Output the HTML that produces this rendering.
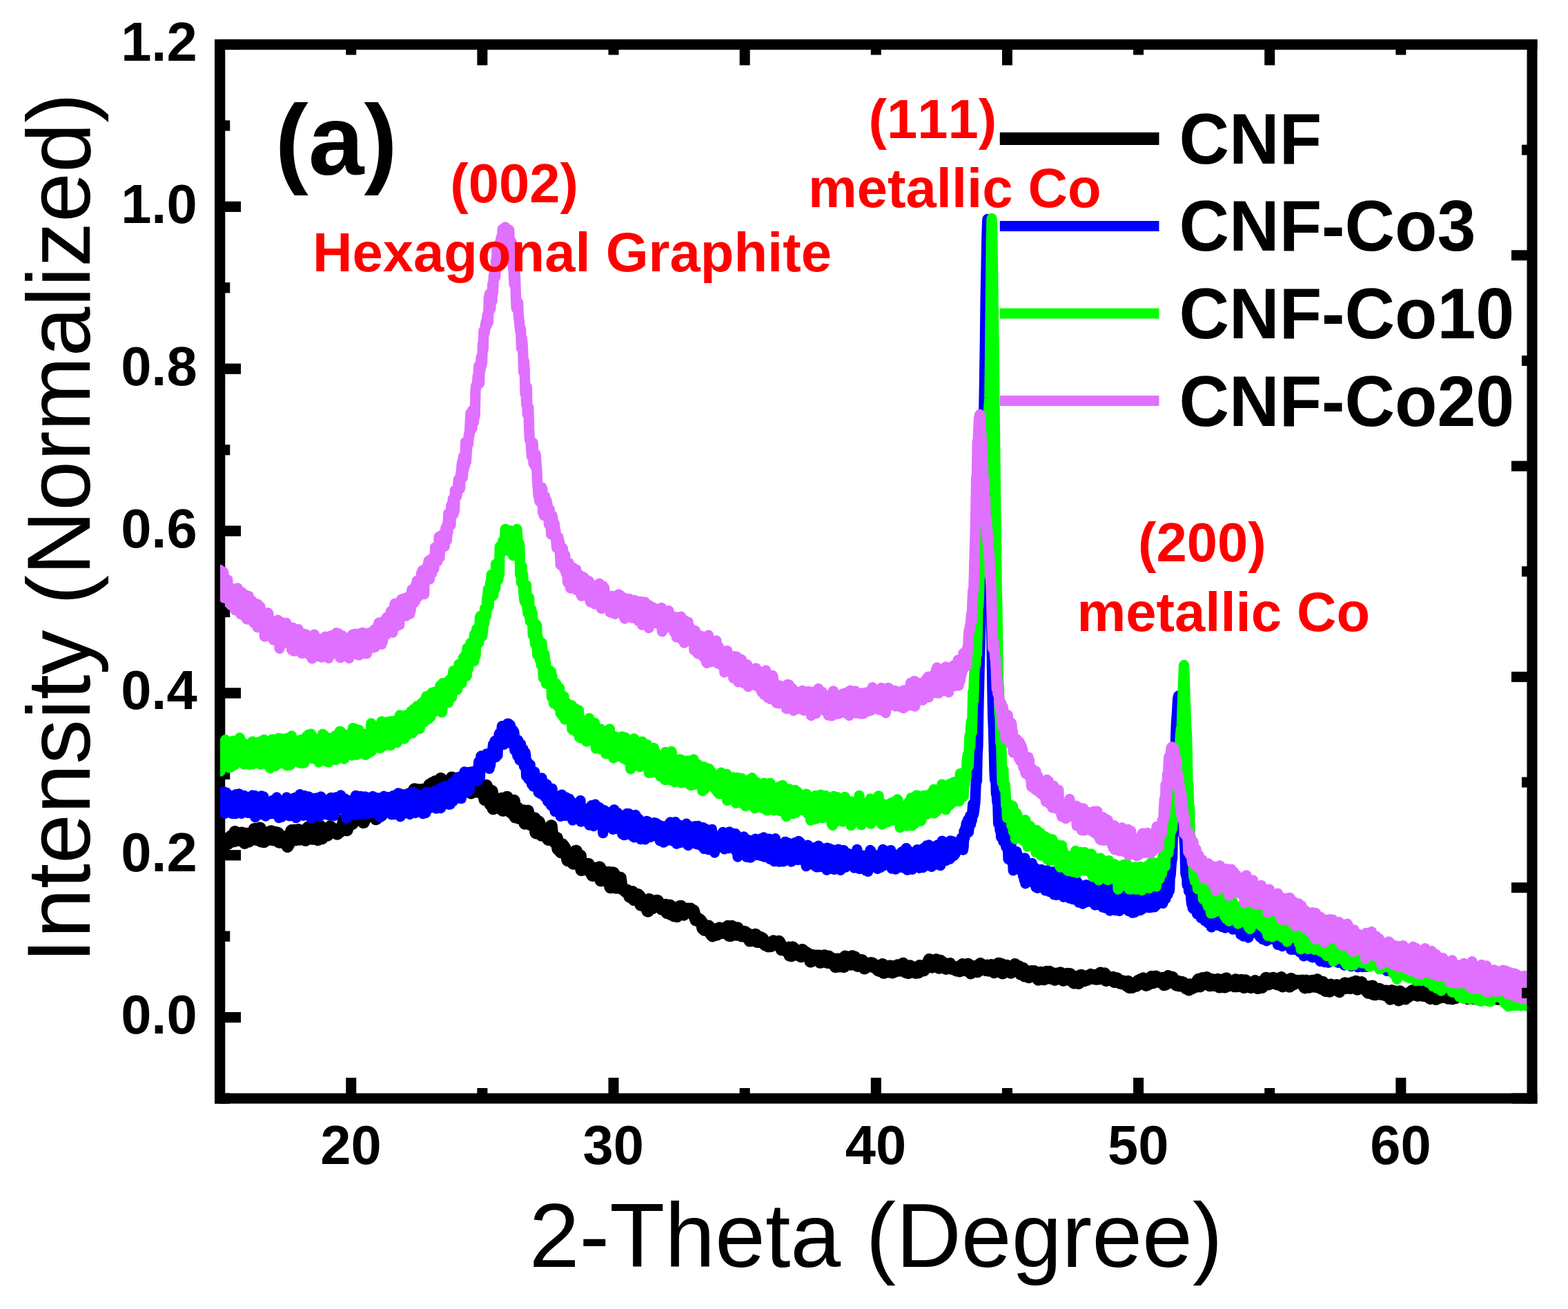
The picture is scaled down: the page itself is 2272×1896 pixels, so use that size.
<!DOCTYPE html>
<html lang="en"><head><meta charset="utf-8"><title>XRD patterns</title>
<style>
html,body{margin:0;padding:0;background:#fff;}
body{width:2272px;height:1896px;overflow:hidden;}
svg{display:block;}
text{font-family:"Liberation Sans",sans-serif;font-kerning:none;}
.b{font-weight:bold;}
.tk{font-weight:bold;font-size:79.5px;}
.an{font-weight:bold;font-size:79.6px;fill:#ff0000;}
.lg{font-weight:bold;font-size:100.5px;}
</style></head>
<body>
<svg width="2272" height="1896" viewBox="0 0 2272 1896">
<rect x="0" y="0" width="2272" height="1896" fill="#ffffff"/>
<defs><clipPath id="cp"><rect x="319.00" y="64.50" width="1893.50" height="1526.50"/></clipPath></defs>
<g fill="#000000"><rect x="311" y="57" width="15.25" height="1541.5"/><rect x="311" y="1583.5" width="1916.5" height="15"/><rect x="318" y="56.90" width="31" height="15.25"/><rect x="318" y="291.75" width="31" height="15.25"/><rect x="318" y="526.59" width="31" height="15.25"/><rect x="318" y="761.44" width="31" height="15.25"/><rect x="318" y="996.28" width="31" height="15.25"/><rect x="318" y="1231.13" width="31" height="15.25"/><rect x="318" y="1465.98" width="31" height="15.25"/><rect x="318" y="174.32" width="15.25" height="15.25"/><rect x="318" y="409.17" width="15.25" height="15.25"/><rect x="318" y="644.02" width="15.25" height="15.25"/><rect x="318" y="878.86" width="15.25" height="15.25"/><rect x="318" y="1113.71" width="15.25" height="15.25"/><rect x="318" y="1348.55" width="15.25" height="15.25"/><rect x="318" y="1583.40" width="15.25" height="15.25"/><rect x="501.24" y="1561" width="15" height="30"/><rect x="881.52" y="1561" width="15" height="30"/><rect x="1261.80" y="1561" width="15" height="30"/><rect x="1642.08" y="1561" width="15" height="30"/><rect x="2022.36" y="1561" width="15" height="30"/><rect x="691.38" y="1576" width="15" height="15"/><rect x="1071.66" y="1576" width="15" height="15"/><rect x="1451.94" y="1576" width="15" height="15"/><rect x="1832.22" y="1576" width="15" height="15"/></g>
<g clip-path="url(#cp)" fill="none" stroke-linejoin="round" stroke-linecap="round">
<path stroke="#000000" stroke-width="18.5" d="M318.6 1224L320.6 1214.3L322.6 1218.9L324.6 1226.4L326.6 1219.5L328.6 1215L330.6 1221.4L332.6 1219.6L334.6 1211.6L336.6 1215.9L338.6 1217.9L340.6 1205.3L342.6 1217L344.6 1216.6L346.6 1213.1L348.6 1212.6L350.6 1206.7L352.6 1216.7L354.6 1220.6L356.6 1208L358.6 1212.2L360.6 1218.2L362.6 1210.9L364.6 1210L366.6 1214.2L368.6 1201.2L370.6 1205L372.6 1216L374.6 1204.5L376.6 1199.7L378.6 1218.3L380.6 1212.8L382.6 1218.9L384.6 1213.8L386.6 1216.5L388.6 1206.1L390.6 1214L392.6 1204.4L394.6 1215.9L396.6 1216.2L398.6 1206L400.6 1206.4L402.6 1207.1L404.6 1219.6L406.6 1218.8L408.6 1211.6L410.6 1219.1L412.6 1217.3L414.6 1218.2L416.6 1225.7L418.6 1221.7L420.6 1211.4L422.6 1203.3L424.6 1206L426.6 1203L428.6 1216L430.6 1214L432.6 1202.3L434.6 1215.4L436.6 1203.5L438.6 1207.7L440.6 1207.1L442.6 1216.6L444.6 1212.8L446.6 1198.7L448.6 1212.5L450.6 1200.7L452.6 1214.5L454.6 1212.1L456.6 1201.2L458.6 1198.2L460.6 1215.9L462.6 1195.7L464.6 1197.9L466.6 1214.1L468.6 1209.6L470.6 1205.2L472.6 1204.4L474.6 1209.5L476.6 1205.3L478.6 1197.5L480.6 1200.1L482.6 1202.8L484.6 1205.7L486.6 1202.4L488.6 1207.4L490.6 1205.6L492.6 1204.5L494.6 1198.6L496.6 1195.8L498.6 1187.7L500.6 1192.5L502.6 1202L504.6 1191.7L506.6 1186.7L508.6 1185.3L510.6 1192.7L512.6 1188.7L514.6 1178.9L516.6 1182.4L518.6 1180.1L520.6 1178.2L522.6 1179.9L524.6 1175.8L526.6 1190.8L528.6 1185.3L530.6 1173.8L532.6 1182L534.6 1178.9L536.6 1175.7L538.6 1176.5L540.6 1178.3L542.6 1169.5L544.6 1186L546.6 1174.3L548.6 1165.7L550.6 1176.5L552.6 1180.6L554.6 1161.1L556.6 1172.9L558.6 1175.4L560.6 1167.8L562.6 1161L564.6 1172.2L566.6 1163.7L568.6 1163.4L570.6 1171.5L572.6 1156.5L574.6 1158.7L576.6 1173.9L578.6 1156.3L580.6 1153.6L582.6 1152.2L584.6 1160.7L586.6 1157.5L588.6 1157.8L590.6 1164.4L592.6 1150.4L594.6 1162.3L596.6 1156.1L598.6 1155L600.6 1143.5L602.6 1144.1L604.6 1144.3L606.6 1149.3L608.6 1146.9L610.6 1144.3L612.6 1155.5L614.6 1150L616.6 1143.2L618.6 1146.8L620.6 1150.6L622.6 1136.9L624.6 1139.6L626.6 1134.5L628.6 1141.5L630.6 1132.5L632.6 1137L634.6 1149.2L636.6 1146L638.6 1128.2L640.6 1134.2L642.6 1145L644.6 1142.4L646.6 1131.9L648.6 1139.7L650.6 1143.9L652.6 1134.9L654.6 1126.7L656.6 1141.8L658.6 1142.6L660.6 1136.2L662.6 1142.1L664.6 1147.5L666.6 1130L668.6 1126L670.6 1140.6L672.6 1130.1L674.6 1143.6L676.6 1144.8L678.6 1138.2L680.6 1143.4L682.6 1148.3L684.6 1142.6L686.6 1136.5L688.6 1139.3L690.6 1132.6L692.6 1146.6L694.6 1141.8L696.6 1136.8L698.6 1139.7L700.6 1144.1L702.6 1157.8L704.6 1138.1L706.6 1143.7L708.6 1145.6L710.6 1164.7L712.6 1146.1L714.6 1170.9L716.6 1167.3L718.6 1159.7L720.6 1166L722.6 1165.9L724.6 1170.6L726.6 1156.9L728.6 1173.5L730.6 1169.3L732.6 1159.3L734.6 1155L736.6 1172L738.6 1174.9L740.6 1175.9L742.6 1177.9L744.6 1159.9L746.6 1183.3L748.6 1169.5L750.6 1171.2L752.6 1184.7L754.6 1179L756.6 1178.4L758.6 1174.5L760.6 1192.4L762.6 1189.3L764.6 1174.9L766.6 1186.6L768.6 1194L770.6 1191.5L772.6 1196.1L774.6 1185.6L776.6 1206.2L778.6 1198.3L780.6 1190.6L782.6 1196.8L784.6 1209.5L786.6 1208.2L788.6 1205.8L790.6 1200.8L792.6 1212.4L794.6 1215.8L796.6 1199.6L798.6 1196.5L800.6 1216.7L802.6 1217.7L804.6 1220.2L806.6 1214L808.6 1229.6L810.6 1223.3L812.6 1233.9L814.6 1223.3L816.6 1226.1L818.6 1229.4L820.6 1235L822.6 1245.9L824.6 1241.3L826.6 1244.1L828.6 1245.6L830.6 1250.4L832.6 1244.7L834.6 1232.9L836.6 1247.7L838.6 1240.4L840.6 1239.3L842.6 1259.8L844.6 1257.4L846.6 1258.6L848.6 1258.4L850.6 1259.3L852.6 1251.9L854.6 1260L856.6 1263.8L858.6 1267.7L860.6 1260.4L862.6 1258.1L864.6 1266.7L866.6 1268.1L868.6 1256.5L870.6 1275.1L872.6 1272.7L874.6 1262.8L876.6 1275.3L878.6 1274.4L880.6 1265.8L882.6 1264L884.6 1285.1L886.6 1280.7L888.6 1264.6L890.6 1267.8L892.6 1285.6L894.6 1280.5L896.6 1281.2L898.6 1271.9L900.6 1286.6L902.6 1286.7L904.6 1288.8L906.6 1291.2L908.6 1289.8L910.6 1292.3L912.6 1298.6L914.6 1296.1L916.6 1292.4L918.6 1302.8L920.6 1299.1L922.6 1300L924.6 1296.3L926.6 1298.3L928.6 1310.5L930.6 1308L932.6 1309.2L934.6 1307.1L936.6 1311.9L938.6 1319.3L940.6 1303.1L942.6 1309.8L944.6 1315.4L946.6 1306.7L948.6 1307.5L950.6 1305.2L952.6 1304.9L954.6 1313.5L956.6 1309.9L958.6 1316.4L960.6 1314.3L962.6 1316.4L964.6 1311.1L966.6 1321.8L968.6 1317.4L970.6 1311.8L972.6 1324.3L974.6 1320.6L976.6 1326L978.6 1315.8L980.6 1327L982.6 1320.4L984.6 1313.5L986.6 1313L988.6 1320.9L990.6 1324.4L992.6 1317.2L994.6 1317.7L996.6 1316.8L998.6 1317.6L1000.6 1316.8L1002.6 1319.4L1004.6 1319.3L1006.6 1326.8L1008.6 1332.2L1010.6 1332.9L1012.6 1331.5L1014.6 1333.2L1016.6 1335.8L1018.6 1344.6L1020.6 1346.4L1022.6 1341.5L1024.6 1345.3L1026.6 1341.7L1028.6 1347.4L1030.6 1353L1032.6 1355.2L1034.6 1349.7L1036.6 1346.5L1038.6 1353.4L1040.6 1346.3L1042.6 1344.4L1044.6 1346.3L1046.6 1350.5L1048.6 1350.7L1050.6 1348.6L1052.6 1347.9L1054.6 1342.1L1056.6 1354.7L1058.6 1354.9L1060.6 1342.1L1062.6 1345.3L1064.6 1347.5L1066.6 1353.5L1068.6 1344.5L1070.6 1350.7L1072.6 1351.1L1074.6 1355.3L1076.6 1353.7L1078.6 1350.1L1080.6 1351.1L1082.6 1357.6L1084.6 1353.5L1086.6 1362.3L1088.6 1358.3L1090.6 1355.4L1092.6 1359.1L1094.6 1354L1096.6 1363.7L1098.6 1363.7L1100.6 1357.7L1102.6 1358.8L1104.6 1359.7L1106.6 1362.5L1108.6 1368.2L1110.6 1366.7L1112.6 1370.2L1114.6 1367.3L1116.6 1370L1118.6 1369.1L1120.6 1363.6L1122.6 1364.3L1124.6 1365.6L1126.6 1367.8L1128.6 1364L1130.6 1367.9L1132.6 1375.1L1134.6 1372.5L1136.6 1374.1L1138.6 1376.4L1140.6 1375.5L1142.6 1372.8L1144.6 1383.5L1146.6 1384L1148.6 1372.5L1150.6 1376.8L1152.6 1379.4L1154.6 1382.5L1156.6 1380.8L1158.6 1382.5L1160.6 1385L1162.6 1376.2L1164.6 1378.3L1166.6 1382.3L1168.6 1380.5L1170.6 1383L1172.6 1382.9L1174.6 1392.3L1176.6 1383.9L1178.6 1389L1180.6 1387.9L1182.6 1384.7L1184.6 1390.4L1186.6 1384.7L1188.6 1393.6L1190.6 1388.5L1192.6 1391.8L1194.6 1384.4L1196.6 1386.9L1198.6 1393.6L1200.6 1385.7L1202.6 1394.1L1204.6 1390.8L1206.6 1394.7L1208.6 1389.5L1210.6 1399.8L1212.6 1393L1214.6 1389.8L1216.6 1399.2L1218.6 1396.8L1220.6 1392.1L1222.6 1399.9L1224.6 1385.8L1226.6 1389.4L1228.6 1392.9L1230.6 1390.7L1232.6 1396.4L1234.6 1385.4L1236.6 1392.7L1238.6 1386.8L1240.6 1389.8L1242.6 1398.7L1244.6 1391.1L1246.6 1391.3L1248.6 1391.3L1250.6 1397.4L1252.6 1402.3L1254.6 1395.4L1256.6 1396.6L1258.6 1399.3L1260.6 1397.7L1262.6 1395.4L1264.6 1396.2L1266.6 1400.4L1268.6 1400.5L1270.6 1399.1L1272.6 1405L1274.6 1405.7L1276.6 1403.6L1278.6 1397.4L1280.6 1408.6L1282.6 1406.5L1284.6 1401.4L1286.6 1407.1L1288.6 1399.7L1290.6 1399.7L1292.6 1408.2L1294.6 1407.3L1296.6 1400.3L1298.6 1406.1L1300.6 1398.6L1302.6 1399.1L1304.6 1405.3L1306.6 1399.2L1308.6 1396L1310.6 1403.5L1312.6 1407.9L1314.6 1404.4L1316.6 1408.7L1318.6 1399.5L1320.6 1401.2L1322.6 1406.4L1324.6 1402.6L1326.6 1408.5L1328.6 1401.4L1330.6 1408.2L1332.6 1399.2L1334.6 1401.8L1336.6 1399.7L1338.6 1405L1340.6 1401.2L1342.6 1396.8L1344.6 1399.4L1346.6 1390.3L1348.6 1398.3L1350.6 1400.4L1352.6 1397.4L1354.6 1398L1356.6 1390.4L1358.6 1393.9L1360.6 1401.5L1362.6 1392L1364.6 1393.8L1366.6 1399.9L1368.6 1396L1370.6 1402.6L1372.6 1400.2L1374.6 1400L1376.6 1396.3L1378.6 1402.5L1380.6 1401.9L1382.6 1403L1384.6 1404.4L1386.6 1405.3L1388.6 1400.8L1390.6 1406.2L1392.6 1403.9L1394.6 1397.3L1396.6 1399.5L1398.6 1404.9L1400.6 1404.7L1402.6 1397L1404.6 1403.2L1406.6 1409.1L1408.6 1404L1410.6 1400.3L1412.6 1406.3L1414.6 1402.8L1416.6 1406.9L1418.6 1401.3L1420.6 1396.4L1422.6 1400.4L1424.6 1403.6L1426.6 1400.5L1428.6 1404.7L1430.6 1398.9L1432.6 1405.4L1434.6 1403L1436.6 1398.2L1438.6 1404.8L1440.6 1407.9L1442.6 1404.9L1444.6 1398.3L1446.6 1396L1448.6 1402.9L1450.6 1396.8L1452.6 1409.2L1454.6 1400.7L1456.6 1405.7L1458.6 1398.9L1460.6 1402.4L1462.6 1404.9L1464.6 1408.4L1466.6 1404.7L1468.6 1403L1470.6 1397.3L1472.6 1399.4L1474.6 1401.5L1476.6 1400.4L1478.6 1410.2L1480.6 1406L1482.6 1403.1L1484.6 1413.2L1486.6 1410.6L1488.6 1409L1490.6 1415L1492.6 1413.2L1494.6 1407.4L1496.6 1412.3L1498.6 1407.4L1500.6 1411.5L1502.6 1410.8L1504.6 1418.4L1506.6 1411.8L1508.6 1408.9L1510.6 1415.3L1512.6 1418.1L1514.6 1409.3L1516.6 1408.1L1518.6 1413L1520.6 1408.1L1522.6 1416.8L1524.6 1416.9L1526.6 1410.6L1528.6 1418.6L1530.6 1413.9L1532.6 1410.6L1534.6 1411.6L1536.6 1409.5L1538.6 1412.1L1540.6 1419.6L1542.6 1414.3L1544.6 1418.3L1546.6 1411.1L1548.6 1418.2L1550.6 1411.3L1552.6 1414.6L1554.6 1421.8L1556.6 1423.3L1558.6 1417.1L1560.6 1414.9L1562.6 1423.7L1564.6 1414.3L1566.6 1412.9L1568.6 1414.8L1570.6 1420.2L1572.6 1414.5L1574.6 1418.9L1576.6 1417.8L1578.6 1413.6L1580.6 1412.1L1582.6 1414.9L1584.6 1417.1L1586.6 1413.1L1588.6 1417.5L1590.6 1414.6L1592.6 1417.3L1594.6 1409.7L1596.6 1413.3L1598.6 1413.3L1600.6 1410.6L1602.6 1419.8L1604.6 1416.1L1606.6 1418.5L1608.6 1416.5L1610.6 1417.9L1612.6 1416L1614.6 1421.8L1616.6 1419L1618.6 1417.6L1620.6 1421.4L1622.6 1423.1L1624.6 1423.9L1626.6 1421.6L1628.6 1422.9L1630.6 1424.8L1632.6 1427.3L1634.6 1422.1L1636.6 1429.8L1638.6 1429L1640.6 1429.6L1642.6 1428.4L1644.6 1425.8L1646.6 1427.6L1648.6 1421.4L1650.6 1424.9L1652.6 1419.4L1654.6 1420.4L1656.6 1417.5L1658.6 1419.9L1660.6 1426.7L1662.6 1418.8L1664.6 1424.9L1666.6 1419L1668.6 1415.2L1670.6 1423.1L1672.6 1419.1L1674.6 1414.9L1676.6 1417.4L1678.6 1420.5L1680.6 1422L1682.6 1418.3L1684.6 1417.1L1686.6 1425.9L1688.6 1425.5L1690.6 1421.1L1692.6 1414.3L1694.6 1422.6L1696.6 1420.8L1698.6 1416.1L1700.6 1422.4L1702.6 1423.6L1704.6 1426.5L1706.6 1421.7L1708.6 1427.2L1710.6 1426.5L1712.6 1423.1L1714.6 1424L1716.6 1426.5L1718.6 1431.1L1720.6 1429.3L1722.6 1433.2L1724.6 1426.5L1726.6 1431.4L1728.6 1426.7L1730.6 1429.3L1732.6 1428.5L1734.6 1422.3L1736.6 1419.1L1738.6 1428.2L1740.6 1422.2L1742.6 1417.2L1744.6 1420.2L1746.6 1418.2L1748.6 1416.2L1750.6 1423.6L1752.6 1427.1L1754.6 1425.8L1756.6 1419.4L1758.6 1426.7L1760.6 1424.4L1762.6 1420.5L1764.6 1419.1L1766.6 1429.2L1768.6 1429.1L1770.6 1419.7L1772.6 1423.3L1774.6 1429.3L1776.6 1417.7L1778.6 1427.6L1780.6 1425.1L1782.6 1424.3L1784.6 1425.3L1786.6 1422.7L1788.6 1428L1790.6 1419.5L1792.6 1428.1L1794.6 1427.5L1796.6 1422.2L1798.6 1420.1L1800.6 1423.6L1802.6 1429.8L1804.6 1420.5L1806.6 1426.2L1808.6 1426.4L1810.6 1429.2L1812.6 1429.6L1814.6 1426.8L1816.6 1422.9L1818.6 1421.4L1820.6 1422.5L1822.6 1430.8L1824.6 1429.7L1826.6 1423.6L1828.6 1429.7L1830.6 1421.2L1832.6 1422.5L1834.6 1417L1836.6 1424.3L1838.6 1425.1L1840.6 1418.1L1842.6 1420.1L1844.6 1417L1846.6 1418.3L1848.6 1424.2L1850.6 1424.9L1852.6 1425.6L1854.6 1417.6L1856.6 1416.3L1858.6 1428.2L1860.6 1420L1862.6 1422.8L1864.6 1422.1L1866.6 1426.7L1868.6 1428.4L1870.6 1418.2L1872.6 1419.3L1874.6 1425L1876.6 1422L1878.6 1420.9L1880.6 1421.1L1882.6 1423.1L1884.6 1421.6L1886.6 1420.7L1888.6 1424L1890.6 1430.1L1892.6 1420.7L1894.6 1425.8L1896.6 1429.5L1898.6 1428L1900.6 1421.1L1902.6 1420.9L1904.6 1428.6L1906.6 1422.6L1908.6 1419.5L1910.6 1429.6L1912.6 1426.5L1914.6 1431.4L1916.6 1423L1918.6 1426.6L1920.6 1434.7L1922.6 1430.9L1924.6 1429.3L1926.6 1435.5L1928.6 1426.8L1930.6 1429.8L1932.6 1432.1L1934.6 1430L1936.6 1427.3L1938.6 1432.4L1940.6 1435.9L1942.6 1431.6L1944.6 1430.4L1946.6 1427.4L1948.6 1424.5L1950.6 1430.8L1952.6 1425.3L1954.6 1425.5L1956.6 1430.8L1958.6 1424.7L1960.6 1423.5L1962.6 1427.9L1964.6 1422.1L1966.6 1432.4L1968.6 1424.8L1970.6 1426.1L1972.6 1423.3L1974.6 1430.3L1976.6 1431.8L1978.6 1429.3L1980.6 1434.8L1982.6 1437.6L1984.6 1429.6L1986.6 1435.1L1988.6 1428.9L1990.6 1439.9L1992.6 1440.1L1994.6 1432.9L1996.6 1435.7L1998.6 1432.9L2000.6 1439.5L2002.6 1437.1L2004.6 1435.7L2006.6 1440.8L2008.6 1435.7L2010.6 1437L2012.6 1439.4L2014.6 1446.4L2016.6 1435.3L2018.6 1439.6L2020.6 1443.8L2022.6 1436.8L2024.6 1437.3L2026.6 1448.2L2028.6 1436.5L2030.6 1439.1L2032.6 1445.9L2034.6 1441.6L2036.6 1446.2L2038.6 1440.6L2040.6 1443.2L2042.6 1438L2044.6 1437.2L2046.6 1435.3L2048.6 1437.6L2050.6 1434.5L2052.6 1441L2054.6 1441.5L2056.6 1434.5L2058.6 1432.2L2060.6 1439.8L2062.6 1441.7L2064.6 1436.2L2066.6 1442.3L2068.6 1437L2070.6 1444.3L2072.6 1445.9L2074.6 1436L2076.6 1435.1L2078.6 1443.5L2080.6 1446.8L2082.6 1437.7L2084.6 1437L2086.6 1444.4L2088.6 1439.8L2090.6 1438.1L2092.6 1443.7L2094.6 1438.2L2096.6 1442.1L2098.6 1445.6L2100.6 1441.7L2102.6 1445.3L2104.6 1446.1L2106.6 1441.9L2108.6 1445.1L2110.6 1434.3L2112.6 1434.1L2114.6 1442.3L2116.6 1442.5L2118.6 1435L2120.6 1438.3L2122.6 1444.8L2124.6 1440.1L2126.6 1446L2128.6 1444.9L2130.6 1445.2L2132.6 1441.9L2134.6 1444.5L2136.6 1446.2L2138.6 1441.2L2140.6 1445.5L2142.6 1441.4L2144.6 1447.9L2146.6 1446.4L2148.6 1441.2L2150.6 1436.7L2152.6 1444.3L2154.6 1445.5L2156.6 1445.9L2158.6 1438.2L2160.6 1438.1L2162.6 1446.6L2164.6 1441L2166.6 1443.8L2168.6 1436.8L2170.6 1446.6L2172.6 1446.1L2174.6 1436.5L2176.6 1443.8L2178.6 1441.3L2180.6 1440.5L2182.6 1435.8L2184.6 1436.9L2186.6 1440.1L2188.6 1437.7L2190.6 1440.1L2192.6 1435.8L2194.6 1441.2L2196.6 1434.8L2198.6 1443.7L2200.6 1435.9L2202.6 1440L2204.6 1439.7L2206.6 1439.7L2208.6 1442.1L2210.6 1443.8L2212.6 1438.4L2214.6 1444.3L2216.6 1438.9L2218.6 1437.4L2220 1448.7"/>
<path stroke="#0000ff" stroke-width="15.3" d="M318.6 1174.8L319.4 1172.2L320.2 1170.8L321 1151.8L321.8 1149.7L322.6 1175.3L323.4 1165.9L324.2 1146.8L325 1173.7L325.8 1178.3L326.6 1157.6L327.4 1170.8L328.2 1148.2L329 1159.1L329.8 1173.1L330.6 1163.9L331.4 1164.1L332.2 1153.1L333 1173.6L333.8 1162.3L334.6 1155.3L335.4 1172.7L336.2 1178.4L337 1164.7L337.8 1171.4L338.6 1178.3L339.4 1151.7L340.2 1167.9L341 1178.7L341.8 1150.7L342.6 1156L343.4 1164.3L344.2 1169L345 1165.3L345.8 1168.3L346.6 1149.8L347.4 1172.5L348.2 1157.1L349 1152L349.8 1178.4L350.6 1168.8L351.4 1162L352.2 1172.1L353 1162.3L353.8 1152.3L354.6 1168.1L355.4 1171.2L356.2 1169.3L357 1167.8L357.8 1176.7L358.6 1175.9L359.4 1177.4L360.2 1161.3L361 1160.2L361.8 1169L362.6 1166.4L363.4 1153.7L364.2 1168.1L365 1161.3L365.8 1152L366.6 1163.9L367.4 1161.4L368.2 1179.8L369 1152.3L369.8 1183.8L370.6 1182.8L371.4 1166.6L372.2 1157.3L373 1172.7L373.8 1155.1L374.6 1158.6L375.4 1171.1L376.2 1163.1L377 1165.8L377.8 1158.7L378.6 1152.9L379.4 1161.8L380.2 1175.2L381 1179.9L381.8 1153.8L382.6 1167.9L383.4 1162.1L384.2 1164.7L385 1182L385.8 1175.4L386.6 1166.6L387.4 1165.9L388.2 1179.1L389 1165.9L389.8 1177.3L390.6 1176.7L391.4 1173.5L392.2 1162.1L393 1172.1L393.8 1178.7L394.6 1159.5L395.4 1175.7L396.2 1164.6L397 1169L397.8 1165.1L398.6 1163L399.4 1176.4L400.2 1162.2L401 1154.9L401.8 1174.8L402.6 1165L403.4 1169L404.2 1184.6L405 1172.9L405.8 1170.1L406.6 1160.6L407.4 1176.2L408.2 1183.4L409 1170.3L409.8 1178.6L410.6 1163.1L411.4 1160.6L412.2 1160.5L413 1163.1L413.8 1180.2L414.6 1164.7L415.4 1154.8L416.2 1166.6L417 1156.6L417.8 1173.6L418.6 1160.6L419.4 1181.9L420.2 1165.8L421 1170.9L421.8 1169.9L422.6 1166.4L423.4 1181.7L424.2 1157L425 1172.4L425.8 1161.4L426.6 1157.7L427.4 1155.5L428.2 1178.4L429 1184.6L429.8 1175.6L430.6 1163.7L431.4 1166.5L432.2 1156.1L433 1164.7L433.8 1158.1L434.6 1150.7L435.4 1160L436.2 1178.6L437 1169.1L437.8 1160.8L438.6 1157.6L439.4 1181.3L440.2 1154.4L441 1152.5L441.8 1160.2L442.6 1173L443.4 1179.2L444.2 1159.2L445 1174.4L445.8 1173.1L446.6 1169.8L447.4 1154L448.2 1171.3L449 1165.1L449.8 1183.2L450.6 1185.2L451.4 1174.5L452.2 1156.2L453 1161.5L453.8 1171L454.6 1181.1L455.4 1165.5L456.2 1164.5L457 1174.2L457.8 1181.8L458.6 1155.9L459.4 1173.4L460.2 1170L461 1164.2L461.8 1167.7L462.6 1183L463.4 1177.1L464.2 1156.3L465 1153.9L465.8 1164.3L466.6 1168.2L467.4 1157L468.2 1160.8L469 1173.8L469.8 1177.8L470.6 1179.4L471.4 1175.8L472.2 1162.8L473 1170.5L473.8 1174.1L474.6 1173.5L475.4 1173.6L476.2 1180L477 1180.9L477.8 1180.4L478.6 1160.7L479.4 1155.4L480.2 1163.1L481 1178L481.8 1162.3L482.6 1176.6L483.4 1170.3L484.2 1181.4L485 1156.2L485.8 1178.1L486.6 1155L487.4 1173.1L488.2 1168.9L489 1162.1L489.8 1160.5L490.6 1162.1L491.4 1170.6L492.2 1159.4L493 1166.2L493.8 1152L494.6 1166.2L495.4 1171.2L496.2 1164.3L497 1167.2L497.8 1171.2L498.6 1167.7L499.4 1156.9L500.2 1161.4L501 1161.5L501.8 1185.5L502.6 1169.2L503.4 1176.7L504.2 1160.1L505 1167.2L505.8 1165.6L506.6 1161.6L507.4 1159.4L508.2 1163L509 1175L509.8 1173.1L510.6 1179.9L511.4 1161.8L512.2 1167.2L513 1173.8L513.8 1166L514.6 1180.5L515.4 1152.3L516.2 1172.4L517 1153L517.8 1169.6L518.6 1164.4L519.4 1167.6L520.2 1177.1L521 1156.1L521.8 1153.3L522.6 1179L523.4 1167.6L524.2 1166.5L525 1153.9L525.8 1166.9L526.6 1175.7L527.4 1177.9L528.2 1166.7L529 1154L529.8 1172.7L530.6 1160.3L531.4 1173.2L532.2 1178.9L533 1178.3L533.8 1155.1L534.6 1158L535.4 1161.7L536.2 1177.7L537 1164.1L537.8 1165.1L538.6 1177.5L539.4 1157L540.2 1153.4L541 1154.1L541.8 1169L542.6 1158.8L543.4 1162.6L544.2 1168.4L545 1168.8L545.8 1164.5L546.6 1155.6L547.4 1179.1L548.2 1180.8L549 1168L549.8 1161.4L550.6 1183.9L551.4 1156.2L552.2 1177.9L553 1168.9L553.8 1159L554.6 1172L555.4 1166.8L556.2 1153.2L557 1166L557.8 1176.1L558.6 1171.7L559.4 1154.5L560.2 1157.3L561 1174.4L561.8 1154.7L562.6 1173.4L563.4 1168.8L564.2 1161.6L565 1164L565.8 1168.1L566.6 1156.1L567.4 1179.9L568.2 1164.1L569 1171.1L569.8 1152.4L570.6 1179.7L571.4 1172.1L572.2 1161.6L573 1175.3L573.8 1175.2L574.6 1162.8L575.4 1159.4L576.2 1176.4L577 1148.9L577.8 1174.7L578.6 1181.3L579.4 1149.7L580.2 1182.9L581 1159.4L581.8 1174.6L582.6 1177.2L583.4 1158.7L584.2 1160.2L585 1178.3L585.8 1170.1L586.6 1171.9L587.4 1155.8L588.2 1175.3L589 1151.2L589.8 1160.1L590.6 1156.7L591.4 1149.8L592.2 1166.3L593 1150.2L593.8 1179.5L594.6 1164.8L595.4 1175.9L596.2 1165L597 1156.8L597.8 1164.6L598.6 1147.1L599.4 1156.6L600.2 1169.2L601 1154L601.8 1177.5L602.6 1168.8L603.4 1150L604.2 1161.9L605 1176.2L605.8 1153L606.6 1155.2L607.4 1157.3L608.2 1164.6L609 1160.9L609.8 1158L610.6 1162.6L611.4 1165.4L612.2 1168.6L613 1178.7L613.8 1168.3L614.6 1150.5L615.4 1153.8L616.2 1155L617 1177.3L617.8 1147.2L618.6 1164L619.4 1160.5L620.2 1153.2L621 1163.9L621.8 1167.8L622.6 1170.5L623.4 1151.5L624.2 1150.3L625 1151.5L625.8 1150.9L626.6 1147.1L627.4 1161.7L628.2 1152.3L629 1162L629.8 1169.1L630.6 1161.5L631.4 1145L632.2 1171.1L633 1153.9L633.8 1147.4L634.6 1150.4L635.4 1144.9L636.2 1151.7L637 1153.2L637.8 1141.6L638.6 1170.6L639.4 1155.5L640.2 1158.2L641 1147.7L641.8 1165L642.6 1165.9L643.4 1152.7L644.2 1138.6L645 1159.6L645.8 1148L646.6 1139.2L647.4 1148.6L648.2 1158.6L649 1157.5L649.8 1138.1L650.6 1165.3L651.4 1149.1L652.2 1165.2L653 1147.8L653.8 1161.7L654.6 1158.5L655.4 1133.4L656.2 1160.6L657 1156.4L657.8 1149.9L658.6 1132L659.4 1146.5L660.2 1152.1L661 1156.7L661.8 1139.5L662.6 1125.9L663.4 1149.6L664.2 1141.9L665 1138.6L665.8 1149L666.6 1125.8L667.4 1127L668.2 1156.6L669 1152.1L669.8 1146.9L670.6 1136.7L671.4 1133.7L672.2 1132.8L673 1117.9L673.8 1148.5L674.6 1130.1L675.4 1143.1L676.2 1121.5L677 1126L677.8 1131.5L678.6 1127L679.4 1118.3L680.2 1144.7L681 1119.6L681.8 1130.2L682.6 1132.7L683.4 1127.7L684.2 1117.7L685 1129.1L685.8 1130.4L686.6 1130.4L687.4 1125.6L688.2 1124.3L689 1121.4L689.8 1126.7L690.6 1120.1L691.4 1114L692.2 1131.4L693 1111.8L693.8 1103.2L694.6 1121.4L695.4 1126.5L696.2 1105L697 1095L697.8 1107.8L698.6 1104.1L699.4 1097L700.2 1102.5L701 1103.7L701.8 1098.3L702.6 1110L703.4 1101.6L704.2 1102.6L705 1091.9L705.8 1110L706.6 1105L707.4 1102.8L708.2 1094.1L709 1113.4L709.8 1104.4L710.6 1108.2L711.4 1095L712.2 1095.4L713 1099.4L713.8 1085.4L714.6 1078.1L715.4 1097.9L716.2 1084.6L717 1073.2L717.8 1083.6L718.6 1096.6L719.4 1077.5L720.2 1085L721 1094L721.8 1069.8L722.6 1067.7L723.4 1062.4L724.2 1069.6L725 1063.5L725.8 1074.8L726.6 1061L727.4 1051.7L728.2 1074.5L729 1074.5L729.8 1078.4L730.6 1055.8L731.4 1061.9L732.2 1062.8L733 1068.8L733.8 1071.2L734.6 1054.2L735.4 1048.2L736.2 1053.7L737 1048.2L737.8 1067.1L738.6 1065L739.4 1050.2L740.2 1067.2L741 1066.6L741.8 1065.6L742.6 1078.4L743.4 1057.6L744.2 1079L745 1060.4L745.8 1086.8L746.6 1078.4L747.4 1088.8L748.2 1071.7L749 1073.2L749.8 1094.9L750.6 1072.1L751.4 1080.3L752.2 1094.2L753 1100.9L753.8 1078.3L754.6 1077.7L755.4 1098.8L756.2 1089.5L757 1089L757.8 1084.9L758.6 1099.2L759.4 1110L760.2 1107.4L761 1089.7L761.8 1095L762.6 1124.3L763.4 1114.4L764.2 1103.4L765 1117.8L765.8 1128.1L766.6 1120.3L767.4 1120.9L768.2 1107.6L769 1132.1L769.8 1130.8L770.6 1136L771.4 1123.2L772.2 1135.1L773 1139.2L773.8 1123.5L774.6 1118L775.4 1136.2L776.2 1125.8L777 1128.5L777.8 1127.9L778.6 1128L779.4 1132.9L780.2 1147.9L781 1143.8L781.8 1127.3L782.6 1142.7L783.4 1149.7L784.2 1138.7L785 1126.9L785.8 1149.7L786.6 1149.8L787.4 1132.6L788.2 1137.7L789 1153.9L789.8 1149.7L790.6 1137.1L791.4 1145.2L792.2 1136L793 1158.3L793.8 1160.9L794.6 1142.7L795.4 1150.5L796.2 1159.7L797 1157.8L797.8 1146.2L798.6 1166.7L799.4 1166.8L800.2 1142.3L801 1168.7L801.8 1153.7L802.6 1160.4L803.4 1164.3L804.2 1175.4L805 1158.7L805.8 1153.3L806.6 1159.8L807.4 1174.1L808.2 1166.8L809 1166.6L809.8 1163.5L810.6 1163.7L811.4 1178.8L812.2 1182.4L813 1162.9L813.8 1151.1L814.6 1157L815.4 1154.7L816.2 1164.8L817 1172.1L817.8 1170.2L818.6 1168.8L819.4 1181.4L820.2 1155L821 1163.2L821.8 1179.9L822.6 1178.1L823.4 1172.1L824.2 1178.3L825 1157.1L825.8 1178L826.6 1171.4L827.4 1181.9L828.2 1161.3L829 1168.2L829.8 1188.1L830.6 1166.2L831.4 1181.4L832.2 1185.4L833 1178.3L833.8 1173.8L834.6 1174.2L835.4 1168.2L836.2 1174.1L837 1178.7L837.8 1177.1L838.6 1172.9L839.4 1169.1L840.2 1164.3L841 1159.6L841.8 1190.2L842.6 1176.2L843.4 1181.9L844.2 1181.9L845 1172.9L845.8 1172.2L846.6 1183.9L847.4 1177.1L848.2 1182.1L849 1179.9L849.8 1178.6L850.6 1182.7L851.4 1178.8L852.2 1170.8L853 1177.5L853.8 1195L854.6 1188L855.4 1171.1L856.2 1181.4L857 1166.6L857.8 1184.3L858.6 1177.6L859.4 1187.5L860.2 1196.6L861 1186.4L861.8 1190.6L862.6 1165.2L863.4 1174.1L864.2 1185.5L865 1174.1L865.8 1181.6L866.6 1174.8L867.4 1183.7L868.2 1169.4L869 1188.1L869.8 1177.9L870.6 1178.8L871.4 1173.2L872.2 1177L873 1172.7L873.8 1206.7L874.6 1191.5L875.4 1193.1L876.2 1174L877 1179.3L877.8 1197.8L878.6 1198.9L879.4 1176.7L880.2 1193L881 1196.3L881.8 1188.4L882.6 1183.1L883.4 1183.3L884.2 1196.6L885 1182.9L885.8 1195.7L886.6 1175.6L887.4 1191.5L888.2 1201.3L889 1176.5L889.8 1172.8L890.6 1200.7L891.4 1180.6L892.2 1193.6L893 1178.6L893.8 1194.6L894.6 1190.9L895.4 1177.7L896.2 1185L897 1191.4L897.8 1194L898.6 1188.8L899.4 1197.3L900.2 1203.3L901 1183.4L901.8 1208.1L902.6 1187.3L903.4 1194.5L904.2 1209.6L905 1197.8L905.8 1193.4L906.6 1209.2L907.4 1190L908.2 1178.4L909 1203.5L909.8 1192.1L910.6 1207.7L911.4 1178.6L912.2 1202.9L913 1198.3L913.8 1182.1L914.6 1193.3L915.4 1207.7L916.2 1210.8L917 1204.5L917.8 1206.5L918.6 1212.8L919.4 1210.4L920.2 1198.8L921 1180.5L921.8 1207.2L922.6 1183.9L923.4 1185L924.2 1203.3L925 1205.1L925.8 1186.5L926.6 1204.4L927.4 1207.3L928.2 1215.7L929 1204.8L929.8 1213.1L930.6 1194.3L931.4 1205.7L932.2 1191.8L933 1197.6L933.8 1194L934.6 1215.9L935.4 1214.9L936.2 1206.9L937 1189.3L937.8 1192.3L938.6 1189.9L939.4 1195.6L940.2 1200.8L941 1200.7L941.8 1204L942.6 1212.5L943.4 1198.8L944.2 1204.4L945 1202.8L945.8 1194.4L946.6 1207.6L947.4 1192.7L948.2 1191.6L949 1206.1L949.8 1210.9L950.6 1192.4L951.4 1202.1L952.2 1193.6L953 1199.1L953.8 1206L954.6 1209L955.4 1204.2L956.2 1217.8L957 1214.8L957.8 1195.9L958.6 1216.4L959.4 1197.6L960.2 1214.1L961 1205.1L961.8 1220.2L962.6 1201L963.4 1215.1L964.2 1201.4L965 1215L965.8 1213.3L966.6 1217.4L967.4 1208.5L968.2 1201.5L969 1193.6L969.8 1213.7L970.6 1207.6L971.4 1190.8L972.2 1214.1L973 1204.7L973.8 1214.6L974.6 1205.1L975.4 1218.4L976.2 1214.6L977 1218L977.8 1219.7L978.6 1190.6L979.4 1209.7L980.2 1222.1L981 1194.4L981.8 1216.6L982.6 1199.7L983.4 1210.1L984.2 1194.9L985 1213.3L985.8 1220.5L986.6 1215.5L987.4 1218.6L988.2 1219.6L989 1210.4L989.8 1198L990.6 1209.9L991.4 1219.1L992.2 1204.4L993 1204.6L993.8 1220.9L994.6 1193.1L995.4 1198.7L996.2 1204.8L997 1224.5L997.8 1201.8L998.6 1210.6L999.4 1220.9L1000.2 1197.3L1001 1218.5L1001.8 1221.5L1002.6 1197.3L1003.4 1214.4L1004.2 1206L1005 1214.3L1005.8 1197.3L1006.6 1206.8L1007.4 1196.6L1008.2 1213.4L1009 1202.9L1009.8 1222.9L1010.6 1209.6L1011.4 1196.3L1012.2 1204.6L1013 1214.1L1013.8 1208.2L1014.6 1205.2L1015.4 1224.6L1016.2 1216L1017 1200.3L1017.8 1222L1018.6 1198.6L1019.4 1223.9L1020.2 1229.4L1021 1205.6L1021.8 1200.2L1022.6 1215.9L1023.4 1217L1024.2 1212.2L1025 1211L1025.8 1202.5L1026.6 1230.6L1027.4 1205.7L1028.2 1213.3L1029 1211.1L1029.8 1220.5L1030.6 1207.1L1031.4 1201.4L1032.2 1213.5L1033 1211.2L1033.8 1220.9L1034.6 1213.3L1035.4 1235L1036.2 1217.1L1037 1218.5L1037.8 1216L1038.6 1220.7L1039.4 1220.7L1040.2 1216.8L1041 1210.7L1041.8 1227.1L1042.6 1218.3L1043.4 1210.6L1044.2 1223L1045 1223.7L1045.8 1220.5L1046.6 1225.2L1047.4 1205.4L1048.2 1207L1049 1211L1049.8 1229.9L1050.6 1210.3L1051.4 1228.1L1052.2 1223L1053 1224.1L1053.8 1217.4L1054.6 1220.7L1055.4 1228.6L1056.2 1221.4L1057 1204.9L1057.8 1220.6L1058.6 1209.8L1059.4 1209.4L1060.2 1212.1L1061 1225L1061.8 1226.2L1062.6 1216.4L1063.4 1207.5L1064.2 1211.2L1065 1228.1L1065.8 1207.7L1066.6 1233.2L1067.4 1226.7L1068.2 1226.3L1069 1241L1069.8 1212.6L1070.6 1227.7L1071.4 1217.7L1072.2 1230.1L1073 1224.3L1073.8 1225.8L1074.6 1220.6L1075.4 1235L1076.2 1227.4L1077 1212.3L1077.8 1212L1078.6 1238.6L1079.4 1236.2L1080.2 1228.3L1081 1232.9L1081.8 1241.3L1082.6 1234.4L1083.4 1216.4L1084.2 1233.4L1085 1227.8L1085.8 1218L1086.6 1230.1L1087.4 1242.2L1088.2 1241.5L1089 1222.9L1089.8 1236.3L1090.6 1218.6L1091.4 1222L1092.2 1216.5L1093 1220.1L1093.8 1238.5L1094.6 1215.1L1095.4 1216.3L1096.2 1216.1L1097 1238.4L1097.8 1221L1098.6 1226.3L1099.4 1230L1100.2 1238.6L1101 1223.3L1101.8 1235L1102.6 1239.5L1103.4 1214.4L1104.2 1237.1L1105 1223.5L1105.8 1227.7L1106.6 1213L1107.4 1241.2L1108.2 1216.1L1109 1240.9L1109.8 1229.3L1110.6 1233L1111.4 1236.5L1112.2 1215.7L1113 1234.3L1113.8 1220.2L1114.6 1215.1L1115.4 1244.3L1116.2 1222.3L1117 1240.8L1117.8 1221L1118.6 1237.9L1119.4 1238.1L1120.2 1226.1L1121 1230.4L1121.8 1247.7L1122.6 1222.1L1123.4 1214.7L1124.2 1242.5L1125 1244.8L1125.8 1226.7L1126.6 1223.3L1127.4 1221.5L1128.2 1234.7L1129 1248.1L1129.8 1240.6L1130.6 1241.6L1131.4 1232.3L1132.2 1225.3L1133 1237.3L1133.8 1247.7L1134.6 1238.2L1135.4 1247.9L1136.2 1232.5L1137 1223.9L1137.8 1219.3L1138.6 1228.3L1139.4 1243.3L1140.2 1240.8L1141 1225L1141.8 1230.5L1142.6 1221L1143.4 1233L1144.2 1231.6L1145 1244.7L1145.8 1245.4L1146.6 1248L1147.4 1222.6L1148.2 1228.4L1149 1242.5L1149.8 1226.6L1150.6 1232.2L1151.4 1225.3L1152.2 1220.5L1153 1239L1153.8 1231.2L1154.6 1233.6L1155.4 1237.1L1156.2 1245.5L1157 1218.5L1157.8 1222.1L1158.6 1226.2L1159.4 1220.2L1160.2 1240.7L1161 1234.3L1161.8 1224.4L1162.6 1237.2L1163.4 1225.8L1164.2 1235.8L1165 1243.2L1165.8 1227.5L1166.6 1249.1L1167.4 1244.3L1168.2 1254.7L1169 1237L1169.8 1240.5L1170.6 1224.1L1171.4 1252.1L1172.2 1246L1173 1241.5L1173.8 1247.1L1174.6 1228.9L1175.4 1250.8L1176.2 1247.9L1177 1230.3L1177.8 1249.1L1178.6 1243.9L1179.4 1244.6L1180.2 1227.7L1181 1254.4L1181.8 1235.7L1182.6 1250.1L1183.4 1255.9L1184.2 1226.4L1185 1242.3L1185.8 1225.1L1186.6 1236.3L1187.4 1255.6L1188.2 1244.9L1189 1249.9L1189.8 1238.2L1190.6 1233.8L1191.4 1228.7L1192.2 1246.9L1193 1255.9L1193.8 1235.5L1194.6 1239.1L1195.4 1250.5L1196.2 1231.3L1197 1246.2L1197.8 1260.1L1198.6 1228.1L1199.4 1256.3L1200.2 1252.1L1201 1256.9L1201.8 1229.2L1202.6 1244L1203.4 1250.1L1204.2 1252.5L1205 1234.9L1205.8 1258.3L1206.6 1231L1207.4 1249L1208.2 1255.2L1209 1259.3L1209.8 1254.1L1210.6 1244.4L1211.4 1257.8L1212.2 1256.3L1213 1246.8L1213.8 1246.9L1214.6 1230.1L1215.4 1234.6L1216.2 1259.4L1217 1253L1217.8 1260.4L1218.6 1250.9L1219.4 1249.6L1220.2 1239.4L1221 1243.3L1221.8 1238.6L1222.6 1231.5L1223.4 1245.8L1224.2 1247.9L1225 1256.1L1225.8 1248.9L1226.6 1239.8L1227.4 1236.1L1228.2 1249.4L1229 1236.5L1229.8 1239.4L1230.6 1248.2L1231.4 1251.7L1232.2 1242.3L1233 1242.3L1233.8 1251.7L1234.6 1248.2L1235.4 1247.7L1236.2 1253.8L1237 1242.7L1237.8 1257L1238.6 1250.6L1239.4 1237.1L1240.2 1234.6L1241 1252.4L1241.8 1230.3L1242.6 1244.8L1243.4 1249.3L1244.2 1240.3L1245 1258.4L1245.8 1254.5L1246.6 1248.5L1247.4 1244.2L1248.2 1251.1L1249 1250.3L1249.8 1255L1250.6 1239.1L1251.4 1241.5L1252.2 1248.4L1253 1252.6L1253.8 1249.4L1254.6 1260.9L1255.4 1246.9L1256.2 1244.6L1257 1247.3L1257.8 1262.3L1258.6 1250.4L1259.4 1247.3L1260.2 1246.1L1261 1231.5L1261.8 1232.4L1262.6 1249L1263.4 1235.2L1264.2 1250.2L1265 1249.6L1265.8 1253.9L1266.6 1249.6L1267.4 1246L1268.2 1251.2L1269 1241.8L1269.8 1254.7L1270.6 1250.6L1271.4 1258.4L1272.2 1246.1L1273 1239.8L1273.8 1255.4L1274.6 1252.7L1275.4 1256.5L1276.2 1247.4L1277 1254.4L1277.8 1234.2L1278.6 1248.3L1279.4 1230.3L1280.2 1254L1281 1242.7L1281.8 1241.6L1282.6 1245.1L1283.4 1241.8L1284.2 1241.6L1285 1250.1L1285.8 1240.2L1286.6 1240.8L1287.4 1232.7L1288.2 1237.2L1289 1234.4L1289.8 1240.4L1290.6 1231.7L1291.4 1235.4L1292.2 1258.1L1293 1247.7L1293.8 1254.3L1294.6 1255.8L1295.4 1237.4L1296.2 1242.9L1297 1246.2L1297.8 1259L1298.6 1250.2L1299.4 1254.7L1300.2 1251.2L1301 1242.5L1301.8 1246.3L1302.6 1239.8L1303.4 1252.7L1304.2 1250.6L1305 1238L1305.8 1248.4L1306.6 1233.9L1307.4 1256.6L1308.2 1237.3L1309 1246.4L1309.8 1243.6L1310.6 1232.2L1311.4 1245.4L1312.2 1230.9L1313 1228.6L1313.8 1240.9L1314.6 1260.2L1315.4 1231.6L1316.2 1235.2L1317 1237.3L1317.8 1255.1L1318.6 1249.3L1319.4 1257.8L1320.2 1243.2L1321 1241.4L1321.8 1259.4L1322.6 1243.2L1323.4 1238L1324.2 1234.5L1325 1234.3L1325.8 1248.5L1326.6 1241.1L1327.4 1234.9L1328.2 1240.4L1329 1230.7L1329.8 1251L1330.6 1251.3L1331.4 1256L1332.2 1257.3L1333 1248.1L1333.8 1232.2L1334.6 1233L1335.4 1255.6L1336.2 1240.9L1337 1256.6L1337.8 1228.8L1338.6 1254.6L1339.4 1229.1L1340.2 1254.9L1341 1237.5L1341.8 1248.1L1342.6 1224.9L1343.4 1235.8L1344.2 1249.9L1345 1237.8L1345.8 1223.9L1346.6 1244L1347.4 1246.6L1348.2 1238.5L1349 1225.7L1349.8 1255.4L1350.6 1228.5L1351.4 1239.1L1352.2 1240.3L1353 1245.3L1353.8 1252.8L1354.6 1240.5L1355.4 1227.9L1356.2 1244.6L1357 1229.6L1357.8 1236.2L1358.6 1223.8L1359.4 1229.3L1360.2 1235.6L1361 1231.8L1361.8 1232.6L1362.6 1253.7L1363.4 1241.8L1364.2 1223.9L1365 1218.1L1365.8 1223.4L1366.6 1224.1L1367.4 1242.8L1368.2 1243.5L1369 1235.5L1369.8 1229.4L1370.6 1246.5L1371.4 1242L1372.2 1231.4L1373 1232.8L1373.8 1244.8L1374.6 1227L1375.4 1240.4L1376.2 1244.3L1377 1217.9L1377.8 1228.3L1378.6 1239.5L1379.4 1227.2L1380.2 1218.5L1381 1230.3L1381.8 1239.6L1382.6 1220.8L1383.4 1237.7L1384.2 1237L1385 1226.7L1385.8 1230L1386.6 1224.7L1387.4 1222L1388.2 1225.1L1389 1221.8L1389.8 1230.5L1390.6 1229.2L1391.4 1225.9L1392.2 1228.8L1393 1213.7L1393.8 1224.7L1394.6 1226.4L1395.4 1231L1396.2 1226.1L1397 1203.8L1397.8 1214.1L1398.6 1200.1L1399.4 1201.3L1400.2 1192.6L1401 1193.9L1401.8 1191.6L1402.6 1187.2L1403.4 1205.4L1404.2 1197.7L1405 1187.7L1405.8 1181.6L1406.6 1194.2L1407.4 1184.5L1408.2 1188.1L1409 1174.3L1409.8 1164.5L1410.6 1179.6L1411.4 1175.2L1412.2 1168L1413 1161.5L1413.8 1141.7L1414.6 1126.3L1415.4 1131.7L1416.2 1093.2L1417 1079L1417.8 1026.4L1418.6 993.7L1419.4 957.9L1420.2 931.8L1421 871.1L1421.8 824.6L1422.6 783.2L1423.4 744.5L1424.2 682.8L1425 625.7L1425.8 595.3L1426.6 543L1427.4 493L1428.2 428.1L1429 389.3L1429.8 344.9L1430.6 321.6L1431 317.5L1431.4 332.9L1432.2 421.7L1433 556.6L1433.8 668.8L1434.6 758L1435.4 822.6L1436.2 905.5L1437 932.9L1437.8 992.4L1438.6 1035.5L1439.4 1055L1440.2 1084.8L1441 1119.3L1441.8 1130.4L1442.6 1117.9L1443.4 1149.6L1444.2 1151.6L1445 1162.3L1445.8 1164.4L1446.6 1193.2L1447.4 1189.7L1448.2 1184.2L1449 1202.7L1449.8 1187.4L1450.6 1212.6L1451.4 1211.6L1452.2 1211.1L1453 1199.1L1453.8 1219L1454.6 1195.1L1455.4 1205.6L1456.2 1219.6L1457 1207.6L1457.8 1227L1458.6 1225.9L1459.4 1224.4L1460.2 1216.4L1461 1244.4L1461.8 1238.5L1462.6 1244L1463.4 1220.7L1464.2 1221.8L1465 1220.5L1465.8 1243.5L1466.6 1249.6L1467.4 1238.3L1468.2 1260.8L1469 1251.9L1469.8 1238.9L1470.6 1251L1471.4 1245.4L1472.2 1242.9L1473 1233.7L1473.8 1237.4L1474.6 1244.7L1475.4 1258.7L1476.2 1247.3L1477 1245L1477.8 1256.8L1478.6 1242.2L1479.4 1257.5L1480.2 1252.6L1481 1263.1L1481.8 1261.7L1482.6 1268.9L1483.4 1251.7L1484.2 1274.5L1485 1242.9L1485.8 1279.8L1486.6 1257.3L1487.4 1248.7L1488.2 1258.7L1489 1274.2L1489.8 1254.4L1490.6 1254.9L1491.4 1275.2L1492.2 1272.3L1493 1263.2L1493.8 1277.3L1494.6 1276.5L1495.4 1250.3L1496.2 1258.9L1497 1271.6L1497.8 1260.7L1498.6 1261.2L1499.4 1265.6L1500.2 1257.3L1501 1285.1L1501.8 1282.5L1502.6 1271.3L1503.4 1286.3L1504.2 1267.7L1505 1278.7L1505.8 1269L1506.6 1264.2L1507.4 1268.6L1508.2 1272.6L1509 1259.4L1509.8 1272.8L1510.6 1262.9L1511.4 1281.8L1512.2 1261.7L1513 1275.4L1513.8 1273.6L1514.6 1289.9L1515.4 1267.5L1516.2 1286.9L1517 1260.8L1517.8 1265.9L1518.6 1265.8L1519.4 1265.2L1520.2 1279.4L1521 1291.7L1521.8 1264.1L1522.6 1275.6L1523.4 1288.3L1524.2 1274.3L1525 1262.7L1525.8 1278L1526.6 1274.1L1527.4 1295.9L1528.2 1273.2L1529 1285.3L1529.8 1279.7L1530.6 1296.4L1531.4 1294.3L1532.2 1284.8L1533 1273.1L1533.8 1285.6L1534.6 1264.1L1535.4 1280.3L1536.2 1285.3L1537 1280.4L1537.8 1291.4L1538.6 1273.9L1539.4 1287.2L1540.2 1271.5L1541 1299.3L1541.8 1283.8L1542.6 1277.3L1543.4 1278.9L1544.2 1270.2L1545 1282.8L1545.8 1270.4L1546.6 1274.8L1547.4 1285.1L1548.2 1294.8L1549 1275.2L1549.8 1301.2L1550.6 1280.9L1551.4 1277.7L1552.2 1292.3L1553 1277L1553.8 1281.2L1554.6 1302.7L1555.4 1286.9L1556.2 1300L1557 1293.2L1557.8 1285.9L1558.6 1285.3L1559.4 1275.9L1560.2 1276.7L1561 1281.6L1561.8 1278.8L1562.6 1294.9L1563.4 1307.2L1564.2 1300.9L1565 1292.8L1565.8 1291.9L1566.6 1293.4L1567.4 1283.2L1568.2 1294.7L1569 1309.1L1569.8 1301L1570.6 1283.1L1571.4 1301.2L1572.2 1289L1573 1299L1573.8 1281.7L1574.6 1306.5L1575.4 1300.5L1576.2 1302.5L1577 1304.1L1577.8 1287.6L1578.6 1283.3L1579.4 1304.9L1580.2 1303.1L1581 1291.6L1581.8 1306.3L1582.6 1293.8L1583.4 1296.1L1584.2 1296.4L1585 1294L1585.8 1294.1L1586.6 1310.9L1587.4 1282.9L1588.2 1292.9L1589 1304.9L1589.8 1305.6L1590.6 1291.4L1591.4 1301.5L1592.2 1292.3L1593 1310.7L1593.8 1302.1L1594.6 1282.9L1595.4 1291.5L1596.2 1309.2L1597 1305.3L1597.8 1314L1598.6 1310.7L1599.4 1289.7L1600.2 1290.1L1601 1315L1601.8 1285.1L1602.6 1293.4L1603.4 1304.1L1604.2 1296.3L1605 1288.1L1605.8 1303.1L1606.6 1309.7L1607.4 1307.9L1608.2 1319L1609 1299.3L1609.8 1284.5L1610.6 1311.2L1611.4 1306.7L1612.2 1292.3L1613 1301.6L1613.8 1288.6L1614.6 1299.7L1615.4 1299L1616.2 1318.5L1617 1295.8L1617.8 1292.8L1618.6 1290.6L1619.4 1314.8L1620.2 1304.3L1621 1310.2L1621.8 1319.5L1622.6 1313.2L1623.4 1290.5L1624.2 1304.3L1625 1293.8L1625.8 1291.5L1626.6 1294.1L1627.4 1304.9L1628.2 1316.2L1629 1291.8L1629.8 1293L1630.6 1304.7L1631.4 1294.4L1632.2 1305.1L1633 1296.4L1633.8 1301.1L1634.6 1308.2L1635.4 1319.4L1636.2 1315.2L1637 1296.3L1637.8 1297.2L1638.6 1300.7L1639.4 1300.2L1640.2 1308.5L1641 1322.2L1641.8 1312.8L1642.6 1318.3L1643.4 1291.5L1644.2 1321.5L1645 1299.4L1645.8 1306.1L1646.6 1300.5L1647.4 1316.1L1648.2 1314.4L1649 1300.2L1649.8 1287.9L1650.6 1313L1651.4 1310.1L1652.2 1318.5L1653 1298.2L1653.8 1317.4L1654.6 1308L1655.4 1316.6L1656.2 1299.7L1657 1302L1657.8 1307.6L1658.6 1303.7L1659.4 1307.4L1660.2 1293.3L1661 1288.5L1661.8 1291L1662.6 1312.1L1663.4 1289.5L1664.2 1313L1665 1314.7L1665.8 1290.1L1666.6 1295.2L1667.4 1300.1L1668.2 1314.3L1669 1302L1669.8 1294.7L1670.6 1288.3L1671.4 1291L1672.2 1296.6L1673 1313.8L1673.8 1298.4L1674.6 1303L1675.4 1311.2L1676.2 1287.7L1677 1287.2L1677.8 1280.4L1678.6 1299.8L1679.4 1306.8L1680.2 1297.7L1681 1293.4L1681.8 1281L1682.6 1292.3L1683.4 1301.1L1684.2 1290.1L1685 1308.4L1685.8 1277.7L1686.6 1292.9L1687.4 1297.5L1688.2 1277.3L1689 1301.8L1689.8 1284.9L1690.6 1285.5L1691.4 1287.6L1692.2 1295.1L1693 1287.5L1693.8 1282.4L1694.6 1289.7L1695.4 1263.7L1696.2 1267.6L1697 1255L1697.8 1246.6L1698.6 1242.8L1699.4 1205.2L1700.2 1209.6L1701 1182.5L1701.8 1131L1702.6 1103.8L1703.4 1076.7L1704.2 1050.9L1705 1039.7L1705.8 1028.2L1706.6 1012.6L1707.5 1008L1708.2 1013L1709 1030L1709.8 1046.9L1710.6 1060.7L1711.4 1095.7L1712.2 1102.6L1713 1126.7L1713.8 1160.7L1714.6 1178.1L1715.4 1202.8L1716.2 1217.6L1717 1230.3L1717.8 1264.6L1718.6 1268.1L1719.4 1257.7L1720.2 1282.3L1721 1265.5L1721.8 1266.6L1722.6 1291L1723.4 1277.8L1724.2 1278L1725 1285.9L1725.8 1301.5L1726.6 1309.3L1727.4 1307.9L1728.2 1315.5L1729 1313L1729.8 1317L1730.6 1305.7L1731.4 1310.7L1732.2 1297L1733 1304.3L1733.8 1306.4L1734.6 1323.8L1735.4 1323.9L1736.2 1316.6L1737 1315.7L1737.8 1319.7L1738.6 1324.1L1739.4 1310.1L1740.2 1329.5L1741 1319.2L1741.8 1329.7L1742.6 1312.7L1743.4 1324.8L1744.2 1315.9L1745 1325.4L1745.8 1333.8L1746.6 1301.8L1747.4 1307L1748.2 1310.7L1749 1328.1L1749.8 1315.1L1750.6 1337.2L1751.4 1312.9L1752.2 1310.8L1753 1319.9L1753.8 1323.6L1754.6 1333.4L1755.4 1343L1756.2 1316.4L1757 1311.7L1757.8 1329.8L1758.6 1328.8L1759.4 1338.3L1760.2 1314.3L1761 1336.5L1761.8 1334.7L1762.6 1326.2L1763.4 1338.3L1764.2 1330.8L1765 1340.3L1765.8 1327.7L1766.6 1316.2L1767.4 1331.8L1768.2 1316.9L1769 1336.9L1769.8 1338L1770.6 1342.6L1771.4 1320.5L1772.2 1338.7L1773 1320.4L1773.8 1330.4L1774.6 1330.4L1775.4 1344L1776.2 1333.4L1777 1326.7L1777.8 1312.4L1778.6 1317.4L1779.4 1341L1780.2 1342L1781 1334.8L1781.8 1338L1782.6 1328.3L1783.4 1332.3L1784.2 1343.2L1785 1314.8L1785.8 1332.5L1786.6 1346.2L1787.4 1340.5L1788.2 1340.1L1789 1318.2L1789.8 1334.4L1790.6 1332.1L1791.4 1323.2L1792.2 1340.1L1793 1324.4L1793.8 1346.9L1794.6 1331.8L1795.4 1339.9L1796.2 1330.2L1797 1328.5L1797.8 1353.6L1798.6 1335.8L1799.4 1344.5L1800.2 1336.4L1801 1347.6L1801.8 1356.2L1802.6 1343.5L1803.4 1342.2L1804.2 1334.2L1805 1321L1805.8 1345.4L1806.6 1333.7L1807.4 1329.4L1808.2 1352.6L1809 1358L1809.8 1332.1L1810.6 1347L1811.4 1349.1L1812.2 1336.9L1813 1352.1L1813.8 1328.1L1814.6 1330.1L1815.4 1344.3L1816.2 1338.1L1817 1329.8L1817.8 1342.1L1818.6 1347.9L1819.4 1336.8L1820.2 1328.5L1821 1328.5L1821.8 1352.4L1822.6 1335.2L1823.4 1345.5L1824.2 1337.7L1825 1344.4L1825.8 1357.3L1826.6 1356.1L1827.4 1349.9L1828.2 1344.4L1829 1340.4L1829.8 1360.7L1830.6 1323.6L1831.4 1351.4L1832.2 1359L1833 1346.2L1833.8 1336.8L1834.6 1333.8L1835.4 1362.9L1836.2 1346.5L1837 1346.7L1837.8 1360L1838.6 1355.4L1839.4 1332.8L1840.2 1334.5L1841 1360.2L1841.8 1357.5L1842.6 1354.6L1843.4 1360.1L1844.2 1359.8L1845 1335.3L1845.8 1342.6L1846.6 1361.2L1847.4 1343.5L1848.2 1359.9L1849 1341.3L1849.8 1342.3L1850.6 1343.9L1851.4 1368.3L1852.2 1361.9L1853 1351.3L1853.8 1356.5L1854.6 1340.2L1855.4 1340L1856.2 1352.2L1857 1353.2L1857.8 1370.5L1858.6 1347.2L1859.4 1362.8L1860.2 1360.8L1861 1348.5L1861.8 1349.8L1862.6 1348.3L1863.4 1357.3L1864.2 1337.7L1865 1357.4L1865.8 1367.9L1866.6 1355.5L1867.4 1350.2L1868.2 1360.9L1869 1350L1869.8 1359.9L1870.6 1375.4L1871.4 1352.3L1872.2 1366.8L1873 1356.3L1873.8 1373.1L1874.6 1354L1875.4 1375.4L1876.2 1350L1877 1350.5L1877.8 1366.4L1878.6 1354.5L1879.4 1349.8L1880.2 1351.9L1881 1348.5L1881.8 1347.7L1882.6 1355.7L1883.4 1379.1L1884.2 1365.3L1885 1373.5L1885.8 1350.4L1886.6 1359.7L1887.4 1369L1888.2 1366.4L1889 1384.9L1889.8 1373.2L1890.6 1381.5L1891.4 1371.4L1892.2 1362.3L1893 1358.6L1893.8 1382.1L1894.6 1355.8L1895.4 1364.4L1896.2 1366.1L1897 1374.1L1897.8 1380.5L1898.6 1369.7L1899.4 1385.6L1900.2 1368.9L1901 1371.4L1901.8 1386.9L1902.6 1382.1L1903.4 1367.8L1904.2 1373.4L1905 1377.3L1905.8 1366.4L1906.6 1378.1L1907.4 1364.6L1908.2 1382.1L1909 1384.8L1909.8 1370.3L1910.6 1359.3L1911.4 1376.3L1912.2 1389.2L1913 1392.4L1913.8 1380.7L1914.6 1387.9L1915.4 1379.6L1916.2 1366.5L1917 1383.4L1917.8 1370.2L1918.6 1390L1919.4 1393.5L1920.2 1390.1L1921 1386.6L1921.8 1384.8L1922.6 1377.4L1923.4 1375.5L1924.2 1391.7L1925 1394.3L1925.8 1372.9L1926.6 1371.2L1927.4 1381.5L1928.2 1371.4L1929 1389.7L1929.8 1392L1930.6 1373.3L1931.4 1391.5L1932.2 1385.4L1933 1381.6L1933.8 1366.7L1934.6 1383.7L1935.4 1375L1936.2 1366.7L1937 1375.7L1937.8 1365.2L1938.6 1394.3L1939.4 1367.1L1940.2 1381.8L1941 1392.5L1941.8 1365.5L1942.6 1373.4L1943.4 1384.5L1944.2 1373.1L1945 1387.7L1945.8 1369.6L1946.6 1375.3L1947.4 1394.2L1948.2 1398.1L1949 1376.8L1949.8 1389L1950.6 1374.6L1951.4 1376.6L1952.2 1369.4L1953 1393.6L1953.8 1377.7L1954.6 1383.5L1955.4 1396.1L1956.2 1394.1L1957 1396.8L1957.8 1399.7L1958.6 1374.7L1959.4 1389.2L1960.2 1396.1L1961 1386.4L1961.8 1396.6L1962.6 1381.1L1963.4 1393.9L1964.2 1398.9L1965 1390.2L1965.8 1394.4L1966.6 1398.7L1967.4 1400.9L1968.2 1391.3L1969 1395.9L1969.8 1394.3L1970.6 1376.9L1971.4 1391.5L1972.2 1380.3L1973 1375.9L1973.8 1383.1L1974.6 1400.5L1975.4 1369.9L1976.2 1387.3L1977 1369.8L1977.8 1394.5L1978.6 1390.9L1979.4 1400.3L1980.2 1395L1981 1373.8L1981.8 1398.7L1982.6 1369.8L1983.4 1378.7L1984.2 1384.6L1985 1375.6L1985.8 1388.9L1986.6 1392L1987.4 1391.3L1988.2 1379.8L1989 1375.5L1989.8 1376L1990.6 1396.1L1991.4 1373.6L1992.2 1374.2L1993 1381L1993.8 1377.4L1994.6 1374.1L1995.4 1390.7L1996.2 1398.7L1997 1377.8L1997.8 1400.6L1998.6 1378.6L1999.4 1378.2L2000.2 1400.7L2001 1385.5L2001.8 1400.3L2002.6 1390.7L2003.4 1376.6L2004.2 1393.4L2005 1398.8L2005.8 1391.4L2006.6 1385.1L2007.4 1396.2L2008.2 1403.6L2009 1401.8L2009.8 1406.4L2010.6 1395.1L2011.4 1395.1L2012.2 1401.7L2013 1378.9L2013.8 1392.7L2014.6 1389.7L2015.4 1391.1L2016.2 1401.5L2017 1389.6L2017.8 1408.2L2018.6 1393.8L2019.4 1410.4L2020.2 1386.1L2021 1383.3L2021.8 1392.5L2022.6 1389.5L2023.4 1386.5L2024.2 1407.9L2025 1388.8L2025.8 1392.9L2026.6 1409.5L2027.4 1388.9L2028.2 1394.1L2029 1411.2L2029.8 1402.1L2030.6 1389.4L2031.4 1390.8L2032.2 1398.8L2033 1407.8L2033.8 1410.1L2034.6 1393.5L2035.4 1409.6L2036.2 1383.4L2037 1403.4L2037.8 1385.8L2038.6 1404.5L2039.4 1410L2040.2 1385.9L2041 1409L2041.8 1394.9L2042.6 1410.2L2043.4 1403L2044.2 1388.8L2045 1388.2L2045.8 1389.4L2046.6 1411.7L2047.4 1402.3L2048.2 1403.7L2049 1394.5L2049.8 1387.1L2050.6 1395.7L2051.4 1417.2L2052.2 1396.2L2053 1396.2L2053.8 1407.5L2054.6 1394.2L2055.4 1398.6L2056.2 1398.8L2057 1418.6L2057.8 1391.9L2058.6 1389.4L2059.4 1396.4L2060.2 1403.1L2061 1400.6L2061.8 1418.4L2062.6 1421.2L2063.4 1391L2064.2 1418.9L2065 1395.1L2065.8 1411.9L2066.6 1403.7L2067.4 1397.4L2068.2 1407.3L2069 1407.4L2069.8 1416.7L2070.6 1396.8L2071.4 1416.4L2072.2 1422.4L2073 1416.6L2073.8 1412.2L2074.6 1392.9L2075.4 1398.6L2076.2 1414.2L2077 1407.5L2077.8 1417L2078.6 1407.8L2079.4 1411L2080.2 1415.1L2081 1413.5L2081.8 1415.1L2082.6 1423.2L2083.4 1421L2084.2 1415.4L2085 1416.7L2085.8 1402.5L2086.6 1408.6L2087.4 1413.2L2088.2 1413.2L2089 1415.9L2089.8 1407.1L2090.6 1393.9L2091.4 1417.7L2092.2 1427.7L2093 1417.2L2093.8 1398.9L2094.6 1402.8L2095.4 1402.6L2096.2 1395.2L2097 1403.4L2097.8 1405.8L2098.6 1409.9L2099.4 1406.8L2100.2 1416.4L2101 1425.9L2101.8 1428.5L2102.6 1403.4L2103.4 1403L2104.2 1404.5L2105 1416.5L2105.8 1429.6L2106.6 1431.5L2107.4 1412.6L2108.2 1409.4L2109 1415.4L2109.8 1412L2110.6 1404.6L2111.4 1432.3L2112.2 1415.3L2113 1421.9L2113.8 1429.7L2114.6 1401L2115.4 1416.7L2116.2 1424.4L2117 1415.7L2117.8 1427.6L2118.6 1413.7L2119.4 1422.7L2120.2 1433.3L2121 1427.7L2121.8 1414L2122.6 1427.2L2123.4 1422.4L2124.2 1420.1L2125 1432.1L2125.8 1435.9L2126.6 1427.9L2127.4 1409.2L2128.2 1423.4L2129 1430.1L2129.8 1406.4L2130.6 1409.6L2131.4 1420.7L2132.2 1407.2L2133 1406.9L2133.8 1414.7L2134.6 1430.3L2135.4 1420.6L2136.2 1424.5L2137 1421.3L2137.8 1427.1L2138.6 1409L2139.4 1406.4L2140.2 1430.9L2141 1416.8L2141.8 1411.4L2142.6 1425L2143.4 1410.8L2144.2 1407.1L2145 1432.1L2145.8 1408.8L2146.6 1431.5L2147.4 1433.7L2148.2 1427.4L2149 1437.9L2149.8 1409.7L2150.6 1434.7L2151.4 1428.6L2152.2 1412.5L2153 1409.1L2153.8 1440.9L2154.6 1416.1L2155.4 1413.5L2156.2 1427.6L2157 1427.1L2157.8 1411.8L2158.6 1437.2L2159.4 1431.2L2160.2 1413.4L2161 1410.6L2161.8 1425.3L2162.6 1426.6L2163.4 1429.1L2164.2 1438.2L2165 1437L2165.8 1423.1L2166.6 1432.6L2167.4 1424.4L2168.2 1416.9L2169 1418.4L2169.8 1437.1L2170.6 1430L2171.4 1436.3L2172.2 1419.8L2173 1424.3L2173.8 1431.9L2174.6 1436.6L2175.4 1411L2176.2 1423.5L2177 1420L2177.8 1437L2178.6 1417.8L2179.4 1427.9L2180.2 1440.2L2181 1437.8L2181.8 1429.8L2182.6 1412.8L2183.4 1431.9L2184.2 1416.3L2185 1433.2L2185.8 1423.9L2186.6 1418.5L2187.4 1418.7L2188.2 1441.7L2189 1437.3L2189.8 1440.1L2190.6 1429.1L2191.4 1426.5L2192.2 1431.9L2193 1443.8L2193.8 1415.1L2194.6 1418.5L2195.4 1423.5L2196.2 1415.8L2197 1416.1L2197.8 1435.7L2198.6 1436.1L2199.4 1438.6L2200.2 1432.5L2201 1444.9L2201.8 1426L2202.6 1422.2L2203.4 1437L2204.2 1428.9L2205 1418L2205.8 1433.9L2206.6 1432.5L2207.4 1418.4L2208.2 1420.9L2209 1419.5L2209.8 1426.1L2210.6 1445L2211.4 1433.8L2212.2 1421.9L2213 1437.7L2213.8 1427.7L2214.6 1420.6L2215.4 1440.2L2216.2 1427.8L2217 1436.4L2217.8 1416.8L2218.6 1419.1L2219.4 1444.2L2220 1416.6"/>
<path stroke="#00ff00" stroke-width="15.3" d="M318.6 1084.7L319.4 1117L320.2 1086.5L321 1085.9L321.8 1087.1L322.6 1085.1L323.4 1104.5L324.2 1081.2L325 1108.9L325.8 1107.5L326.6 1071.7L327.4 1093.5L328.2 1078.1L329 1083.9L329.8 1087L330.6 1091.9L331.4 1091.2L332.2 1112L333 1080.6L333.8 1079.4L334.6 1092.6L335.4 1110.7L336.2 1109.1L337 1107.8L337.8 1073.1L338.6 1107.8L339.4 1095.9L340.2 1107.8L341 1083.8L341.8 1078.3L342.6 1102.8L343.4 1095.1L344.2 1098.3L345 1076.7L345.8 1075.4L346.6 1103.5L347.4 1068.7L348.2 1101.8L349 1076.9L349.8 1093.1L350.6 1087.2L351.4 1081.8L352.2 1075.8L353 1095.7L353.8 1107L354.6 1095.6L355.4 1094.6L356.2 1093L357 1093.3L357.8 1091L358.6 1099.8L359.4 1080.7L360.2 1078.3L361 1107.3L361.8 1104.3L362.6 1093.6L363.4 1100.1L364.2 1101.4L365 1101.4L365.8 1074.1L366.6 1106.5L367.4 1089.4L368.2 1090.4L369 1095.6L369.8 1095.3L370.6 1086.9L371.4 1082L372.2 1104.1L373 1104.1L373.8 1075.2L374.6 1086.8L375.4 1101.2L376.2 1104.2L377 1107.1L377.8 1079.2L378.6 1106.7L379.4 1095.1L380.2 1072.7L381 1082.4L381.8 1079.6L382.6 1071.3L383.4 1100.9L384.2 1078.9L385 1097.7L385.8 1076.5L386.6 1107.1L387.4 1099.3L388.2 1099.5L389 1091.1L389.8 1090.3L390.6 1079.2L391.4 1112.5L392.2 1075.3L393 1089.1L393.8 1074.4L394.6 1070.9L395.4 1097.9L396.2 1106.3L397 1088.9L397.8 1106.9L398.6 1109.7L399.4 1091.5L400.2 1100.6L401 1085.6L401.8 1079.4L402.6 1075.5L403.4 1069.4L404.2 1071.8L405 1097.8L405.8 1105.6L406.6 1070L407.4 1101.3L408.2 1102.9L409 1093.8L409.8 1089L410.6 1088.5L411.4 1101.6L412.2 1078.7L413 1102.6L413.8 1081.9L414.6 1069.6L415.4 1108.8L416.2 1074L417 1080.1L417.8 1069L418.6 1069.4L419.4 1070.8L420.2 1108.3L421 1092.8L421.8 1086L422.6 1066L423.4 1100.8L424.2 1086.7L425 1103.5L425.8 1090.6L426.6 1074.9L427.4 1075.2L428.2 1100.5L429 1075L429.8 1077.6L430.6 1081.9L431.4 1078.9L432.2 1077.7L433 1098.5L433.8 1087.4L434.6 1105.1L435.4 1071.6L436.2 1079.4L437 1105.5L437.8 1087.7L438.6 1100.1L439.4 1084.8L440.2 1087.7L441 1105L441.8 1076.6L442.6 1089.6L443.4 1090.6L444.2 1066.5L445 1071.2L445.8 1075.3L446.6 1064.4L447.4 1093.9L448.2 1087.9L449 1076.9L449.8 1082.9L450.6 1063.2L451.4 1084.7L452.2 1098.6L453 1067.4L453.8 1094.1L454.6 1095.4L455.4 1073.5L456.2 1078L457 1074.8L457.8 1091.2L458.6 1077.9L459.4 1070.9L460.2 1073.8L461 1072.4L461.8 1103.9L462.6 1088.4L463.4 1081L464.2 1081.7L465 1087.1L465.8 1099.9L466.6 1079.8L467.4 1063.3L468.2 1074.5L469 1064.4L469.8 1073.4L470.6 1086.7L471.4 1076.3L472.2 1097.9L473 1103L473.8 1068.2L474.6 1096.7L475.4 1089L476.2 1103.9L477 1069.4L477.8 1092.4L478.6 1076.1L479.4 1070.5L480.2 1072.4L481 1097.7L481.8 1080.5L482.6 1081.5L483.4 1096.9L484.2 1096.7L485 1096.1L485.8 1065.6L486.6 1100.6L487.4 1089.9L488.2 1097.1L489 1095.9L489.8 1092.9L490.6 1091.1L491.4 1085.5L492.2 1059.4L493 1085.4L493.8 1059.7L494.6 1073.2L495.4 1072.6L496.2 1068.1L497 1092.9L497.8 1097.6L498.6 1099.1L499.4 1081.1L500.2 1088.9L501 1068.4L501.8 1070.1L502.6 1092.7L503.4 1077.4L504.2 1079.3L505 1085.3L505.8 1063.3L506.6 1090.1L507.4 1088.5L508.2 1062.3L509 1072.1L509.8 1094.2L510.6 1067.8L511.4 1054.6L512.2 1060.4L513 1073L513.8 1057.1L514.6 1055.7L515.4 1063.7L516.2 1090.1L517 1093.1L517.8 1060.8L518.6 1074.7L519.4 1075.7L520.2 1057.3L521 1090.2L521.8 1081.4L522.6 1083.3L523.4 1074.7L524.2 1086.3L525 1080.9L525.8 1063.8L526.6 1063L527.4 1089L528.2 1069.6L529 1069.8L529.8 1093.4L530.6 1081.6L531.4 1081L532.2 1081.3L533 1080.8L533.8 1075.1L534.6 1090.3L535.4 1079.8L536.2 1085.5L537 1078.9L537.8 1047.7L538.6 1087.9L539.4 1079.3L540.2 1051.6L541 1073.9L541.8 1074L542.6 1069.4L543.4 1058.2L544.2 1067.1L545 1054.6L545.8 1063L546.6 1071L547.4 1078.5L548.2 1064L549 1081.8L549.8 1079.3L550.6 1083.6L551.4 1066L552.2 1055.9L553 1045L553.8 1073.2L554.6 1064.9L555.4 1048.8L556.2 1047.3L557 1080.2L557.8 1073.7L558.6 1074.6L559.4 1053L560.2 1062.9L561 1067.9L561.8 1057.2L562.6 1045.3L563.4 1061L564.2 1068.7L565 1052.6L565.8 1079.7L566.6 1076.1L567.4 1044.6L568.2 1053.7L569 1069.5L569.8 1053.7L570.6 1074.6L571.4 1047.8L572.2 1075L573 1052.3L573.8 1071.3L574.6 1043.1L575.4 1075.6L576.2 1070.5L577 1060.6L577.8 1050.1L578.6 1053.1L579.4 1035.9L580.2 1049.4L581 1054.8L581.8 1055L582.6 1055.1L583.4 1061.4L584.2 1043L585 1064.1L585.8 1070L586.6 1046.2L587.4 1036.1L588.2 1065.5L589 1055.9L589.8 1048.3L590.6 1063.8L591.4 1038.2L592.2 1054.4L593 1049.2L593.8 1041.6L594.6 1056.2L595.4 1030.7L596.2 1041L597 1043.1L597.8 1061.7L598.6 1056.5L599.4 1027.1L600.2 1043.2L601 1026.8L601.8 1032.8L602.6 1056.7L603.4 1029.3L604.2 1022.7L605 1054.7L605.8 1026.8L606.6 1041.4L607.4 1030.7L608.2 1055.6L609 1042.7L609.8 1049.8L610.6 1018.8L611.4 1025L612.2 1044.5L613 1023.9L613.8 1015.9L614.6 1045.7L615.4 1017.1L616.2 1032.2L617 1021.3L617.8 1008.6L618.6 1023.7L619.4 1032.2L620.2 1037.4L621 1041.1L621.8 1025.7L622.6 1031.1L623.4 1013.7L624.2 1038.1L625 1014.9L625.8 1003.5L626.6 1010.6L627.4 1003.5L628.2 1024.6L629 1002.4L629.8 1015.3L630.6 1010.7L631.4 1030.1L632.2 1005.7L633 1006.4L633.8 1006L634.6 1001.1L635.4 1019.1L636.2 1012.3L637 1020.8L637.8 993.1L638.6 1023.9L639.4 1010.5L640.2 1031.9L641 1027L641.8 989.3L642.6 1013.1L643.4 998.5L644.2 1017.3L645 994.5L645.8 1006.6L646.6 1012.9L647.4 1008.9L648.2 995L649 1010.6L649.8 1017.7L650.6 992.5L651.4 984.7L652.2 988.2L653 991L653.8 989.9L654.6 1010.1L655.4 985.8L656.2 977.7L657 971.7L657.8 993L658.6 979.3L659.4 991L660.2 996.6L661 979.3L661.8 971.2L662.6 998.9L663.4 972.4L664.2 972.6L665 962.1L665.8 981.1L666.6 965L667.4 986.2L668.2 972.1L669 989.4L669.8 964.8L670.6 982.5L671.4 952.8L672.2 966.5L673 959.4L673.8 958.3L674.6 948.3L675.4 952.3L676.2 979L677 938.8L677.8 953.7L678.6 968.9L679.4 951.7L680.2 950.8L681 949L681.8 931.4L682.6 937.3L683.4 956.6L684.2 947.8L685 928.5L685.8 936.6L686.6 957.9L687.4 918.9L688.2 941.1L689 950.5L689.8 926.9L690.6 911.2L691.4 928.3L692.2 932.6L693 929.8L693.8 931L694.6 913.2L695.4 894.8L696.2 892.2L697 922.8L697.8 904.5L698.6 921.7L699.4 916.1L700.2 906.8L701 901L701.8 902.6L702.6 881L703.4 884.9L704.2 892.8L705 884.1L705.8 866L706.6 866.8L707.4 853.1L708.2 878.3L709 852.2L709.8 862.7L710.6 844.2L711.4 843L712.2 832.4L713 849L713.8 856.8L714.6 862.6L715.4 838.9L716.2 854.7L717 846.9L717.8 851.8L718.6 817.1L719.4 816.7L720.2 818.9L721 838.9L721.8 839.9L722.6 828.7L723.4 832.1L724.2 791.8L725 794.7L725.8 790L726.6 800L727.4 798.2L728.2 795.8L729 783.1L729.8 788.5L730.6 787.6L731.4 795.9L732.2 766.5L733 795.9L733.8 770.1L734.6 774.7L735.4 797.6L736.2 768.3L737 777.8L737.8 778.6L738.6 768.4L739.4 770L740.2 776.4L741 786.9L741.8 771.3L742.6 775.4L743.4 804.6L744.2 786.1L745 781.8L745.8 804.7L746.6 791.9L747.4 775.4L748.2 792.6L749 766.5L749.8 777.7L750.6 806L751.4 798L752.2 786.7L753 794.2L753.8 833.1L754.6 821L755.4 843.9L756.2 820.3L757 839.5L757.8 832.4L758.6 857.3L759.4 863.9L760.2 871.1L761 852.6L761.8 873.5L762.6 847.6L763.4 873.5L764.2 881.9L765 888.5L765.8 870.7L766.6 865.8L767.4 889L768.2 900L769 892.6L769.8 882.5L770.6 899.5L771.4 888.1L772.2 919.6L773 912.7L773.8 914.5L774.6 918.7L775.4 932.9L776.2 932.3L777 904.7L777.8 906.6L778.6 948.5L779.4 923.5L780.2 948.3L781 936.7L781.8 953.5L782.6 956.6L783.4 940.4L784.2 963.6L785 931.1L785.8 940.2L786.6 961.6L787.4 981.6L788.2 982.6L789 947.6L789.8 960.2L790.6 959.2L791.4 990.2L792.2 974.2L793 972.4L793.8 978.7L794.6 974.2L795.4 983.9L796.2 971.6L797 971.5L797.8 977L798.6 973.2L799.4 1009.7L800.2 979.3L801 1011.2L801.8 988.9L802.6 1019.2L803.4 988.3L804.2 1005.9L805 1008.5L805.8 990.1L806.6 1007.1L807.4 1005.4L808.2 1023.1L809 1007.7L809.8 1012L810.6 996.5L811.4 1021L812.2 1033.3L813 1024.9L813.8 1031.9L814.6 1029.5L815.4 1013.3L816.2 1038.4L817 1008.7L817.8 1023.3L818.6 1042.2L819.4 1036L820.2 1021L821 1018.6L821.8 1031.2L822.6 1025.8L823.4 1021.2L824.2 1020.3L825 1042.3L825.8 1035.2L826.6 1037.8L827.4 1023.3L828.2 1021.6L829 1056.4L829.8 1056.9L830.6 1045.2L831.4 1047.3L832.2 1054L833 1041L833.8 1026.5L834.6 1027L835.4 1056.4L836.2 1061L837 1028.1L837.8 1061L838.6 1028.8L839.4 1067.7L840.2 1050.8L841 1049.5L841.8 1069.1L842.6 1061.8L843.4 1058.5L844.2 1063.2L845 1050.2L845.8 1048.5L846.6 1069.3L847.4 1067.6L848.2 1060.1L849 1046.2L849.8 1074L850.6 1068.9L851.4 1045.6L852.2 1065L853 1058.3L853.8 1040.3L854.6 1065L855.4 1046.1L856.2 1064.1L857 1063.6L857.8 1073.3L858.6 1061.5L859.4 1069.2L860.2 1071.2L861 1047.1L861.8 1047.2L862.6 1067.3L863.4 1084L864.2 1061.3L865 1080.2L865.8 1083.9L866.6 1060.3L867.4 1060.7L868.2 1072.7L869 1072.2L869.8 1080.7L870.6 1056.1L871.4 1085.4L872.2 1064.2L873 1062.7L873.8 1065L874.6 1063L875.4 1063.6L876.2 1080.3L877 1063.9L877.8 1091.8L878.6 1081.9L879.4 1070.3L880.2 1071.4L881 1073.9L881.8 1081.1L882.6 1066.6L883.4 1055.8L884.2 1080.6L885 1070.2L885.8 1083.7L886.6 1093.8L887.4 1070.5L888.2 1074.7L889 1097.9L889.8 1091.4L890.6 1087.8L891.4 1066.9L892.2 1093.9L893 1084.5L893.8 1077L894.6 1069.8L895.4 1094.3L896.2 1095.6L897 1084.5L897.8 1091.5L898.6 1088.8L899.4 1073.7L900.2 1092.8L901 1066.9L901.8 1089.6L902.6 1083.5L903.4 1098.6L904.2 1093.8L905 1087.3L905.8 1068.1L906.6 1072L907.4 1091.2L908.2 1101.2L909 1071L909.8 1098.8L910.6 1093.1L911.4 1097.7L912.2 1071.4L913 1083.3L913.8 1113.9L914.6 1076.7L915.4 1077.2L916.2 1084.4L917 1084.3L917.8 1071.6L918.6 1069.9L919.4 1092.3L920.2 1075.6L921 1081.3L921.8 1081.5L922.6 1087L923.4 1108.9L924.2 1087.1L925 1099.5L925.8 1082.9L926.6 1110.8L927.4 1103.4L928.2 1084.2L929 1101.9L929.8 1098.5L930.6 1074.2L931.4 1107.1L932.2 1090L933 1103.5L933.8 1078.7L934.6 1097.6L935.4 1094.3L936.2 1108.5L937 1088.3L937.8 1078.7L938.6 1091.2L939.4 1081.8L940.2 1119.4L941 1091.8L941.8 1117.4L942.6 1101.2L943.4 1119.1L944.2 1103.8L945 1088.3L945.8 1090.8L946.6 1098L947.4 1083.3L948.2 1107.9L949 1087.9L949.8 1104.1L950.6 1103.9L951.4 1119.2L952.2 1102L953 1119.8L953.8 1105L954.6 1113.1L955.4 1118.3L956.2 1109.7L957 1124.9L957.8 1123.5L958.6 1100.2L959.4 1115.8L960.2 1094L961 1096.2L961.8 1122.6L962.6 1098.5L963.4 1129.5L964.2 1089.5L965 1109.6L965.8 1096.4L966.6 1115.4L967.4 1114.7L968.2 1098.3L969 1098L969.8 1129.6L970.6 1118.3L971.4 1118.8L972.2 1115.3L973 1088.5L973.8 1094.6L974.6 1127.6L975.4 1107.1L976.2 1119.7L977 1128.5L977.8 1132.6L978.6 1129.2L979.4 1130.2L980.2 1107.5L981 1127.8L981.8 1125.8L982.6 1110.2L983.4 1122.9L984.2 1109L985 1099.8L985.8 1118.5L986.6 1102.8L987.4 1133.9L988.2 1100.9L989 1112L989.8 1108.3L990.6 1102.4L991.4 1115.3L992.2 1119.1L993 1104.2L993.8 1104L994.6 1116.1L995.4 1112.3L996.2 1130.9L997 1102L997.8 1135.3L998.6 1103.4L999.4 1102.9L1000.2 1119.5L1001 1137.6L1001.8 1125.3L1002.6 1110.2L1003.4 1123.7L1004.2 1119.5L1005 1099.9L1005.8 1125.5L1006.6 1136.3L1007.4 1131.5L1008.2 1111.9L1009 1116.8L1009.8 1120.4L1010.6 1128.1L1011.4 1107.5L1012.2 1114L1013 1110.9L1013.8 1130.7L1014.6 1132L1015.4 1138.7L1016.2 1116.4L1017 1121L1017.8 1145.5L1018.6 1120.4L1019.4 1131.4L1020.2 1110.7L1021 1143.4L1021.8 1112.7L1022.6 1140.4L1023.4 1118.5L1024.2 1135.7L1025 1137.8L1025.8 1115L1026.6 1123.2L1027.4 1113.4L1028.2 1122.6L1029 1128.8L1029.8 1131.8L1030.6 1118L1031.4 1123L1032.2 1127.4L1033 1139.2L1033.8 1127.5L1034.6 1141.1L1035.4 1132.7L1036.2 1142.2L1037 1142.4L1037.8 1128.6L1038.6 1145.8L1039.4 1133.4L1040.2 1147.9L1041 1135.8L1041.8 1149.6L1042.6 1135.3L1043.4 1121.1L1044.2 1138.4L1045 1119.1L1045.8 1148.2L1046.6 1149.6L1047.4 1122.2L1048.2 1150.3L1049 1138.7L1049.8 1143.4L1050.6 1144.5L1051.4 1128L1052.2 1152.9L1053 1121.5L1053.8 1159.5L1054.6 1136.8L1055.4 1158.6L1056.2 1129L1057 1156.4L1057.8 1129.4L1058.6 1153.7L1059.4 1150L1060.2 1155.5L1061 1149.8L1061.8 1131.3L1062.6 1126L1063.4 1145.8L1064.2 1151.9L1065 1155L1065.8 1152.1L1066.6 1163.1L1067.4 1140L1068.2 1138L1069 1126.3L1069.8 1161.6L1070.6 1132.2L1071.4 1153.8L1072.2 1154.2L1073 1155.7L1073.8 1147.2L1074.6 1127.3L1075.4 1157.1L1076.2 1164L1077 1133L1077.8 1164.8L1078.6 1149.4L1079.4 1156.1L1080.2 1167.5L1081 1156L1081.8 1144.1L1082.6 1152.3L1083.4 1131.8L1084.2 1139.4L1085 1142.6L1085.8 1129.3L1086.6 1157.2L1087.4 1161.5L1088.2 1149.8L1089 1140.5L1089.8 1126.7L1090.6 1166.7L1091.4 1133.4L1092.2 1134.8L1093 1147.4L1093.8 1170.6L1094.6 1132L1095.4 1132.5L1096.2 1141.9L1097 1146.6L1097.8 1159.8L1098.6 1139.7L1099.4 1147L1100.2 1167.1L1101 1137.3L1101.8 1145.2L1102.6 1166.5L1103.4 1163.1L1104.2 1170.2L1105 1165.1L1105.8 1162.3L1106.6 1134.3L1107.4 1134.4L1108.2 1142.3L1109 1162.7L1109.8 1149.7L1110.6 1135.6L1111.4 1173.9L1112.2 1148.7L1113 1135.5L1113.8 1167.4L1114.6 1163.6L1115.4 1150L1116.2 1134.5L1117 1165.5L1117.8 1139.2L1118.6 1164.2L1119.4 1151.3L1120.2 1171.8L1121 1148.5L1121.8 1173.8L1122.6 1162.8L1123.4 1151.3L1124.2 1163.7L1125 1152.5L1125.8 1152.1L1126.6 1148.2L1127.4 1159.7L1128.2 1155.8L1129 1154.5L1129.8 1138.8L1130.6 1174.7L1131.4 1147.3L1132.2 1174.9L1133 1145.5L1133.8 1137.3L1134.6 1174.3L1135.4 1166.2L1136.2 1172.4L1137 1158.1L1137.8 1143.4L1138.6 1171L1139.4 1182.6L1140.2 1157.3L1141 1144.8L1141.8 1157L1142.6 1175.3L1143.4 1142.9L1144.2 1157.7L1145 1153.5L1145.8 1171L1146.6 1175.2L1147.4 1157L1148.2 1172L1149 1178.6L1149.8 1152.1L1150.6 1166.4L1151.4 1176.5L1152.2 1144.4L1153 1177L1153.8 1156.4L1154.6 1153.2L1155.4 1146.9L1156.2 1162.1L1157 1166.7L1157.8 1156.5L1158.6 1165.9L1159.4 1150.6L1160.2 1169.3L1161 1164L1161.8 1151.4L1162.6 1166.8L1163.4 1173.6L1164.2 1163.3L1165 1169.6L1165.8 1165.2L1166.6 1168.2L1167.4 1152L1168.2 1150.1L1169 1162L1169.8 1174.3L1170.6 1178.6L1171.4 1166.2L1172.2 1169.2L1173 1174.1L1173.8 1160.3L1174.6 1188.1L1175.4 1171.6L1176.2 1162L1177 1181.2L1177.8 1161.4L1178.6 1175.9L1179.4 1163.5L1180.2 1186.6L1181 1173.8L1181.8 1152.3L1182.6 1185.8L1183.4 1159.8L1184.2 1172L1185 1174.7L1185.8 1179.7L1186.6 1178.9L1187.4 1171.4L1188.2 1178.5L1189 1151.2L1189.8 1175.1L1190.6 1176.3L1191.4 1184.7L1192.2 1162.7L1193 1155.2L1193.8 1167.9L1194.6 1164.8L1195.4 1179.3L1196.2 1152.3L1197 1158.7L1197.8 1173.4L1198.6 1182.5L1199.4 1178.5L1200.2 1167.6L1201 1176.8L1201.8 1184.5L1202.6 1186.2L1203.4 1182.7L1204.2 1168.8L1205 1193.2L1205.8 1164.9L1206.6 1195.4L1207.4 1161.1L1208.2 1153.3L1209 1159.1L1209.8 1177L1210.6 1190.7L1211.4 1159.6L1212.2 1177.8L1213 1154.7L1213.8 1172.3L1214.6 1183.8L1215.4 1188.5L1216.2 1186.9L1217 1179.1L1217.8 1157.9L1218.6 1177.6L1219.4 1189L1220.2 1169.8L1221 1190L1221.8 1182.3L1222.6 1174.3L1223.4 1157.8L1224.2 1154.4L1225 1174.9L1225.8 1177.9L1226.6 1175.5L1227.4 1176.9L1228.2 1187.9L1229 1177.7L1229.8 1165.6L1230.6 1165.2L1231.4 1168.1L1232.2 1168.9L1233 1195.6L1233.8 1161L1234.6 1161.3L1235.4 1174.8L1236.2 1164.1L1237 1166.4L1237.8 1173.1L1238.6 1185.6L1239.4 1190.3L1240.2 1175.6L1241 1183.7L1241.8 1173.4L1242.6 1163.8L1243.4 1173.5L1244.2 1189.1L1245 1152.3L1245.8 1178L1246.6 1160.4L1247.4 1179.7L1248.2 1194.7L1249 1187.1L1249.8 1184.5L1250.6 1176.7L1251.4 1190.7L1252.2 1182.7L1253 1177.9L1253.8 1170.9L1254.6 1167.8L1255.4 1183.4L1256.2 1162.8L1257 1174.3L1257.8 1168.2L1258.6 1173L1259.4 1172.3L1260.2 1168.6L1261 1157L1261.8 1193.1L1262.6 1157.7L1263.4 1166L1264.2 1161.1L1265 1164.4L1265.8 1176.1L1266.6 1166.7L1267.4 1164.8L1268.2 1187.5L1269 1170.2L1269.8 1180.5L1270.6 1176.5L1271.4 1172.6L1272.2 1188.6L1273 1152.8L1273.8 1169.8L1274.6 1159.9L1275.4 1187.3L1276.2 1176L1277 1180.6L1277.8 1194.1L1278.6 1190.7L1279.4 1190.7L1280.2 1186.9L1281 1192.5L1281.8 1186.1L1282.6 1186L1283.4 1165.4L1284.2 1178.5L1285 1171.4L1285.8 1180.1L1286.6 1190.6L1287.4 1166.4L1288.2 1172.4L1289 1176.5L1289.8 1164.2L1290.6 1187.9L1291.4 1162.8L1292.2 1170.5L1293 1179.2L1293.8 1187.9L1294.6 1164L1295.4 1179L1296.2 1163L1297 1160.4L1297.8 1173.5L1298.6 1172.2L1299.4 1180.1L1300.2 1158L1301 1158.5L1301.8 1164.7L1302.6 1179.7L1303.4 1180.8L1304.2 1198.6L1305 1170.5L1305.8 1185.9L1306.6 1188.5L1307.4 1182.2L1308.2 1167.1L1309 1188.4L1309.8 1187.4L1310.6 1186.6L1311.4 1175.9L1312.2 1187L1313 1180.4L1313.8 1191.9L1314.6 1196.1L1315.4 1167.7L1316.2 1195L1317 1161.5L1317.8 1162.1L1318.6 1183.2L1319.4 1164.8L1320.2 1155.6L1321 1166.3L1321.8 1195.9L1322.6 1159.9L1323.4 1167.7L1324.2 1187.8L1325 1154.9L1325.8 1192.6L1326.6 1159L1327.4 1181.6L1328.2 1151.8L1329 1154.8L1329.8 1162.7L1330.6 1163.6L1331.4 1165.4L1332.2 1170.6L1333 1157.6L1333.8 1176.2L1334.6 1189L1335.4 1179.7L1336.2 1177.2L1337 1170.2L1337.8 1152.4L1338.6 1166L1339.4 1173L1340.2 1161.3L1341 1162.5L1341.8 1161.4L1342.6 1179.6L1343.4 1170.7L1344.2 1151.6L1345 1174.9L1345.8 1164.3L1346.6 1155.2L1347.4 1164.3L1348.2 1176.1L1349 1169L1349.8 1159.9L1350.6 1147.7L1351.4 1158.4L1352.2 1177.4L1353 1143.4L1353.8 1177.9L1354.6 1149.2L1355.4 1171.6L1356.2 1174.4L1357 1175.2L1357.8 1168.4L1358.6 1165.3L1359.4 1150.1L1360.2 1167.8L1361 1165.7L1361.8 1162.9L1362.6 1149.8L1363.4 1140.3L1364.2 1140.4L1365 1136.2L1365.8 1153L1366.6 1154.4L1367.4 1166.6L1368.2 1149.3L1369 1171.9L1369.8 1144.5L1370.6 1172.7L1371.4 1163.6L1372.2 1142.7L1373 1146.2L1373.8 1141.7L1374.6 1141.4L1375.4 1166.5L1376.2 1135.5L1377 1152L1377.8 1140.8L1378.6 1160.5L1379.4 1163.1L1380.2 1148.2L1381 1148.4L1381.8 1132.9L1382.6 1144.1L1383.4 1137.3L1384.2 1148L1385 1154.3L1385.8 1149.3L1386.6 1142.4L1387.4 1148.2L1388.2 1133.9L1389 1135L1389.8 1160.7L1390.6 1130.6L1391.4 1120.3L1392.2 1150.4L1393 1143.8L1393.8 1128.4L1394.6 1142.3L1395.4 1154.2L1396.2 1152.6L1397 1122.9L1397.8 1137.3L1398.6 1128.4L1399.4 1115.7L1400.2 1125.9L1401 1104L1401.8 1096L1402.6 1092.1L1403.4 1109.9L1404.2 1082.1L1405 1065.3L1405.8 1082L1406.6 1052.9L1407.4 1044.4L1408.2 1060.4L1409 1035.6L1409.8 1002.1L1410.6 1015.3L1411.4 985.7L1412.2 966.7L1413 952.3L1413.8 962.7L1414.6 928.1L1415.4 948.3L1416.2 919.6L1417 871.9L1417.8 878.7L1418.6 857.9L1419.4 829.4L1420.2 818.1L1421 829.3L1421.8 800.9L1422.6 780.1L1423.4 792.2L1424.2 770.2L1425 753.6L1425.8 750.9L1426.6 718.1L1427.4 700.2L1428.2 704.3L1429 709.3L1429.8 672.9L1430.6 643L1431.4 637.2L1432.2 602.9L1433 587.8L1433.8 576.7L1434.6 513.3L1435.4 431.3L1436.2 350.3L1437 316.5L1437.8 340.7L1438.6 394.3L1439.4 461.2L1440.2 509.6L1441 593.1L1441.8 656.6L1442.6 724.4L1443.4 782.9L1444.2 857.2L1445 885.3L1445.8 946L1446.6 996.3L1447.4 993.8L1448.2 1036.4L1449 1033.4L1449.8 1076.1L1450.6 1067.6L1451.4 1106.4L1452.2 1134L1453 1113.5L1453.8 1115.3L1454.6 1141.5L1455.4 1137.5L1456.2 1136.9L1457 1146.1L1457.8 1167L1458.6 1162.2L1459.4 1184.6L1460.2 1169.1L1461 1167.6L1461.8 1164.8L1462.6 1172.5L1463.4 1166.9L1464.2 1181.7L1465 1167.4L1465.8 1195.8L1466.6 1178.2L1467.4 1167.4L1468.2 1204.4L1469 1180.9L1469.8 1192L1470.6 1183.1L1471.4 1215.3L1472.2 1197.4L1473 1178.1L1473.8 1180L1474.6 1199.2L1475.4 1206.8L1476.2 1201.6L1477 1206.1L1477.8 1196L1478.6 1202.5L1479.4 1187.9L1480.2 1208.1L1481 1200.5L1481.8 1191.3L1482.6 1212.1L1483.4 1217.8L1484.2 1192.8L1485 1192.5L1485.8 1187.7L1486.6 1217.4L1487.4 1221.1L1488.2 1194.8L1489 1226.1L1489.8 1225.4L1490.6 1207.1L1491.4 1219.7L1492.2 1206.3L1493 1196.7L1493.8 1206.4L1494.6 1207.1L1495.4 1206.4L1496.2 1215.3L1497 1212.5L1497.8 1213.3L1498.6 1219.9L1499.4 1219.4L1500.2 1202.7L1501 1234.7L1501.8 1224.5L1502.6 1202.7L1503.4 1204.4L1504.2 1233.3L1505 1231.2L1505.8 1221.5L1506.6 1235.3L1507.4 1206.7L1508.2 1239.3L1509 1220.6L1509.8 1235L1510.6 1230.1L1511.4 1237.6L1512.2 1222.8L1513 1215L1513.8 1211.4L1514.6 1226.9L1515.4 1233L1516.2 1226.1L1517 1236.7L1517.8 1244.9L1518.6 1217.7L1519.4 1214.7L1520.2 1240.9L1521 1246.3L1521.8 1243.2L1522.6 1218.1L1523.4 1221.5L1524.2 1235.9L1525 1215.9L1525.8 1227.7L1526.6 1227.5L1527.4 1242.7L1528.2 1239.6L1529 1240.2L1529.8 1230.3L1530.6 1230.8L1531.4 1223.4L1532.2 1247.8L1533 1230.5L1533.8 1228.7L1534.6 1252.7L1535.4 1242.4L1536.2 1256.1L1537 1225.5L1537.8 1253.4L1538.6 1224.6L1539.4 1255.1L1540.2 1231.5L1541 1242.2L1541.8 1249.5L1542.6 1242.3L1543.4 1256.8L1544.2 1243.1L1545 1250.6L1545.8 1259.5L1546.6 1241.7L1547.4 1261.4L1548.2 1260L1549 1254.2L1549.8 1239.8L1550.6 1255L1551.4 1252.8L1552.2 1257.4L1553 1250.9L1553.8 1262.6L1554.6 1248.4L1555.4 1259.4L1556.2 1247.1L1557 1238.5L1557.8 1257.1L1558.6 1232.4L1559.4 1238L1560.2 1252.2L1561 1264.2L1561.8 1241.4L1562.6 1252.4L1563.4 1245.2L1564.2 1243.3L1565 1259.6L1565.8 1234.5L1566.6 1252.8L1567.4 1259.6L1568.2 1241.9L1569 1259.3L1569.8 1242.3L1570.6 1242.2L1571.4 1234.3L1572.2 1241.6L1573 1261.1L1573.8 1244.2L1574.6 1248.6L1575.4 1251L1576.2 1245L1577 1255.7L1577.8 1261.4L1578.6 1240.5L1579.4 1248.6L1580.2 1240.3L1581 1236.7L1581.8 1258.9L1582.6 1266.7L1583.4 1269.8L1584.2 1253.9L1585 1241.7L1585.8 1268.5L1586.6 1252.8L1587.4 1263.6L1588.2 1249.1L1589 1259.2L1589.8 1268.6L1590.6 1262.7L1591.4 1250.2L1592.2 1274.9L1593 1261.9L1593.8 1248.4L1594.6 1243L1595.4 1272.2L1596.2 1244.9L1597 1248.3L1597.8 1264.9L1598.6 1248.6L1599.4 1249.6L1600.2 1254.8L1601 1248.7L1601.8 1254.4L1602.6 1268.8L1603.4 1249.8L1604.2 1257.4L1605 1274.7L1605.8 1263.2L1606.6 1246.6L1607.4 1251.7L1608.2 1273.1L1609 1269.2L1609.8 1269.6L1610.6 1256.3L1611.4 1261.1L1612.2 1263.8L1613 1260.4L1613.8 1270.7L1614.6 1251.6L1615.4 1262L1616.2 1272.8L1617 1263.7L1617.8 1258.9L1618.6 1253.9L1619.4 1272.8L1620.2 1288L1621 1274.5L1621.8 1286.1L1622.6 1273.9L1623.4 1280.2L1624.2 1282.5L1625 1283.1L1625.8 1277.2L1626.6 1277.9L1627.4 1272.8L1628.2 1252.4L1629 1254.6L1629.8 1268.3L1630.6 1259.2L1631.4 1252L1632.2 1265.3L1633 1259.9L1633.8 1252.7L1634.6 1281.1L1635.4 1269.8L1636.2 1288.2L1637 1281.8L1637.8 1269.2L1638.6 1260.8L1639.4 1264.4L1640.2 1287.9L1641 1278.6L1641.8 1263.4L1642.6 1280.5L1643.4 1281L1644.2 1271L1645 1255.9L1645.8 1288.3L1646.6 1270.1L1647.4 1275.8L1648.2 1262.6L1649 1264.6L1649.8 1264.8L1650.6 1259.5L1651.4 1286.4L1652.2 1255.5L1653 1283.7L1653.8 1268.2L1654.6 1289.6L1655.4 1276.6L1656.2 1258.1L1657 1261.9L1657.8 1262.1L1658.6 1283.8L1659.4 1267.4L1660.2 1285L1661 1256.5L1661.8 1277.7L1662.6 1254.2L1663.4 1276L1664.2 1267.9L1665 1286.5L1665.8 1261.5L1666.6 1259L1667.4 1276.4L1668.2 1249L1669 1253.3L1669.8 1279L1670.6 1276.6L1671.4 1268.7L1672.2 1271.8L1673 1262.5L1673.8 1258.9L1674.6 1249.8L1675.4 1284.2L1676.2 1262L1677 1271.4L1677.8 1269.3L1678.6 1273.6L1679.4 1252.8L1680.2 1273L1681 1253.5L1681.8 1257.9L1682.6 1260.2L1683.4 1265.8L1684.2 1246.9L1685 1239.7L1685.8 1253.9L1686.6 1226.8L1687.4 1244.2L1688.2 1255.5L1689 1238.5L1689.8 1222.2L1690.6 1228.8L1691.4 1218.4L1692.2 1231L1693 1236L1693.8 1212L1694.6 1226.3L1695.4 1200.9L1696.2 1192L1697 1204.6L1697.8 1180L1698.6 1200.1L1699.4 1190.8L1700.2 1178.7L1701 1179.1L1701.8 1162.4L1702.6 1173.2L1703.4 1159.6L1704.2 1146.9L1705 1130.8L1705.8 1120.3L1706.6 1128.2L1707.4 1127.4L1708.2 1098.1L1709 1094.3L1709.8 1075.8L1710.6 1063.3L1711.4 1055.2L1712.2 1054.4L1713 1028.6L1713.8 1007.7L1714.6 988.5L1715.5 963.5L1716.2 977.6L1717 1004.8L1717.8 1028.2L1718.6 1052.1L1719.4 1061.6L1720.2 1090L1721 1135L1721.8 1135.4L1722.6 1168.8L1723.4 1168.5L1724.2 1210.2L1725 1217.3L1725.8 1215L1726.6 1237.9L1727.4 1236.6L1728.2 1240.5L1729 1250.8L1729.8 1270.2L1730.6 1249.7L1731.4 1276.5L1732.2 1250.6L1733 1252.4L1733.8 1261.5L1734.6 1274.7L1735.4 1287.6L1736.2 1265.2L1737 1268.9L1737.8 1280.9L1738.6 1276.1L1739.4 1285.4L1740.2 1278.6L1741 1270.1L1741.8 1284.8L1742.6 1273.9L1743.4 1302.4L1744.2 1286.8L1745 1286.4L1745.8 1277.3L1746.6 1293.5L1747.4 1283.8L1748.2 1302L1749 1309.2L1749.8 1306.1L1750.6 1313L1751.4 1303.9L1752.2 1289.3L1753 1313.9L1753.8 1306.4L1754.6 1323L1755.4 1311.5L1756.2 1300.3L1757 1322.6L1757.8 1318.1L1758.6 1318.7L1759.4 1321.4L1760.2 1320.6L1761 1313.5L1761.8 1315.1L1762.6 1306.5L1763.4 1320.2L1764.2 1318.6L1765 1307.7L1765.8 1305.5L1766.6 1317.8L1767.4 1302.6L1768.2 1318.9L1769 1301.9L1769.8 1297.9L1770.6 1299.3L1771.4 1316.8L1772.2 1310.9L1773 1321.9L1773.8 1300.2L1774.6 1327.3L1775.4 1309.5L1776.2 1326.2L1777 1330.7L1777.8 1319.3L1778.6 1327.4L1779.4 1320.8L1780.2 1324.5L1781 1334.1L1781.8 1299.1L1782.6 1327L1783.4 1324.2L1784.2 1325.7L1785 1305.2L1785.8 1305.6L1786.6 1311.3L1787.4 1320.7L1788.2 1316.6L1789 1312.9L1789.8 1313.4L1790.6 1324.2L1791.4 1313.1L1792.2 1334.2L1793 1333.6L1793.8 1338L1794.6 1321.6L1795.4 1316.6L1796.2 1327.9L1797 1335.2L1797.8 1323L1798.6 1331.9L1799.4 1313.8L1800.2 1310.9L1801 1321.3L1801.8 1327.6L1802.6 1331.1L1803.4 1321.9L1804.2 1314.4L1805 1336.7L1805.8 1331.1L1806.6 1326.2L1807.4 1331.9L1808.2 1324.7L1809 1342.7L1809.8 1329.2L1810.6 1336.2L1811.4 1345.7L1812.2 1344.5L1813 1334.7L1813.8 1330.8L1814.6 1336.9L1815.4 1321.1L1816.2 1324.3L1817 1336.2L1817.8 1324.2L1818.6 1329L1819.4 1333.6L1820.2 1336.6L1821 1337.3L1821.8 1319.9L1822.6 1332.9L1823.4 1318.7L1824.2 1316.3L1825 1339.2L1825.8 1335.7L1826.6 1332.8L1827.4 1334.7L1828.2 1341.9L1829 1317.5L1829.8 1335.9L1830.6 1335.1L1831.4 1324.5L1832.2 1340.8L1833 1346.1L1833.8 1336.7L1834.6 1345.5L1835.4 1347.6L1836.2 1350.1L1837 1355.4L1837.8 1344.4L1838.6 1348L1839.4 1340.9L1840.2 1326.7L1841 1353.3L1841.8 1354.8L1842.6 1356.3L1843.4 1357.1L1844.2 1354L1845 1341.5L1845.8 1323.5L1846.6 1327.6L1847.4 1325.4L1848.2 1335.4L1849 1337.6L1849.8 1336.6L1850.6 1349.4L1851.4 1348.8L1852.2 1352L1853 1355.2L1853.8 1354.8L1854.6 1337.6L1855.4 1335.7L1856.2 1342.5L1857 1351.5L1857.8 1335.3L1858.6 1358.2L1859.4 1336.1L1860.2 1351.7L1861 1349L1861.8 1349.7L1862.6 1355.1L1863.4 1346.7L1864.2 1353.5L1865 1364L1865.8 1346.1L1866.6 1352.7L1867.4 1345L1868.2 1336.3L1869 1344.4L1869.8 1353.9L1870.6 1349.5L1871.4 1341.8L1872.2 1354.3L1873 1342.7L1873.8 1349.2L1874.6 1338.4L1875.4 1337.3L1876.2 1358.6L1877 1350.7L1877.8 1339.5L1878.6 1344.2L1879.4 1346L1880.2 1358.1L1881 1352.4L1881.8 1340L1882.6 1366.9L1883.4 1364.8L1884.2 1350.2L1885 1374.8L1885.8 1361.8L1886.6 1345L1887.4 1356L1888.2 1347.8L1889 1370.4L1889.8 1365.8L1890.6 1354.8L1891.4 1350L1892.2 1372.4L1893 1357.2L1893.8 1347.8L1894.6 1371.3L1895.4 1374.6L1896.2 1351.8L1897 1354.1L1897.8 1345.9L1898.6 1348.3L1899.4 1370.3L1900.2 1369.6L1901 1366.7L1901.8 1355.6L1902.6 1350.6L1903.4 1371.7L1904.2 1357.7L1905 1375.5L1905.8 1366.6L1906.6 1363.9L1907.4 1347.8L1908.2 1362.2L1909 1356.9L1909.8 1375L1910.6 1373.6L1911.4 1369.5L1912.2 1373.5L1913 1377.3L1913.8 1378L1914.6 1376.6L1915.4 1362.3L1916.2 1354L1917 1379.7L1917.8 1370.9L1918.6 1369.6L1919.4 1368.9L1920.2 1374L1921 1371L1921.8 1367.7L1922.6 1384.6L1923.4 1367.4L1924.2 1364.7L1925 1384L1925.8 1361.7L1926.6 1362L1927.4 1381.2L1928.2 1373.6L1929 1370.1L1929.8 1381.4L1930.6 1366.8L1931.4 1381.6L1932.2 1392.4L1933 1374.5L1933.8 1382.5L1934.6 1369.2L1935.4 1371.4L1936.2 1385.2L1937 1376.4L1937.8 1384.7L1938.6 1388.7L1939.4 1375.1L1940.2 1369.8L1941 1365L1941.8 1372.9L1942.6 1367.3L1943.4 1367.8L1944.2 1380.2L1945 1377.6L1945.8 1367L1946.6 1373.4L1947.4 1365.7L1948.2 1385L1949 1393.9L1949.8 1379.6L1950.6 1388.9L1951.4 1397.6L1952.2 1373.4L1953 1371.7L1953.8 1369.4L1954.6 1379.2L1955.4 1373.6L1956.2 1370.1L1957 1398.3L1957.8 1386.6L1958.6 1371.7L1959.4 1391.3L1960.2 1378.1L1961 1388.7L1961.8 1397.8L1962.6 1372.3L1963.4 1375.7L1964.2 1371.2L1965 1387.4L1965.8 1393.8L1966.6 1382.7L1967.4 1380.9L1968.2 1379.9L1969 1372.6L1969.8 1370.1L1970.6 1393.9L1971.4 1385.7L1972.2 1375.1L1973 1378.1L1973.8 1383.1L1974.6 1395.2L1975.4 1380.4L1976.2 1389.3L1977 1386.4L1977.8 1394.4L1978.6 1381.9L1979.4 1385.1L1980.2 1374L1981 1395.9L1981.8 1383.3L1982.6 1381.1L1983.4 1396.8L1984.2 1400.2L1985 1399.3L1985.8 1390.5L1986.6 1399.1L1987.4 1377.6L1988.2 1383.1L1989 1382.6L1989.8 1390.3L1990.6 1386.7L1991.4 1384.1L1992.2 1390L1993 1381.9L1993.8 1385.3L1994.6 1387.5L1995.4 1381.8L1996.2 1387.5L1997 1376.9L1997.8 1389.3L1998.6 1403.7L1999.4 1383.4L2000.2 1403.5L2001 1379.2L2001.8 1388L2002.6 1391.7L2003.4 1382.1L2004.2 1391.2L2005 1381.1L2005.8 1394.6L2006.6 1400.7L2007.4 1388.7L2008.2 1381.9L2009 1396.6L2009.8 1391.5L2010.6 1389.9L2011.4 1394.3L2012.2 1400.6L2013 1401.8L2013.8 1379.5L2014.6 1386.7L2015.4 1401.3L2016.2 1383.1L2017 1399.1L2017.8 1381.4L2018.6 1409.9L2019.4 1403.4L2020.2 1405.6L2021 1395.1L2021.8 1411.4L2022.6 1401.8L2023.4 1397.3L2024.2 1418.2L2025 1386.3L2025.8 1409.8L2026.6 1400.4L2027.4 1408.8L2028.2 1402L2029 1387.1L2029.8 1402.6L2030.6 1389.6L2031.4 1390.5L2032.2 1399.7L2033 1403.9L2033.8 1394.1L2034.6 1411.6L2035.4 1405.8L2036.2 1410.8L2037 1410L2037.8 1405.7L2038.6 1415.1L2039.4 1402L2040.2 1387.2L2041 1411L2041.8 1416.4L2042.6 1402.6L2043.4 1389.3L2044.2 1412.3L2045 1403.4L2045.8 1409.7L2046.6 1406.2L2047.4 1415.3L2048.2 1402.6L2049 1401.7L2049.8 1394.2L2050.6 1415.3L2051.4 1420.6L2052.2 1418.5L2053 1414.4L2053.8 1391.6L2054.6 1417.7L2055.4 1399.1L2056.2 1413.1L2057 1402.4L2057.8 1418.5L2058.6 1420.6L2059.4 1403.8L2060.2 1419.4L2061 1411.7L2061.8 1406.6L2062.6 1397.8L2063.4 1402.3L2064.2 1404.1L2065 1400.3L2065.8 1416L2066.6 1408.2L2067.4 1420.2L2068.2 1421.9L2069 1422.9L2069.8 1410.7L2070.6 1422.1L2071.4 1422.1L2072.2 1424.2L2073 1410.9L2073.8 1412.9L2074.6 1406.1L2075.4 1416.7L2076.2 1428.4L2077 1426.2L2077.8 1414L2078.6 1413.3L2079.4 1412.4L2080.2 1405.7L2081 1423.6L2081.8 1431.7L2082.6 1422.7L2083.4 1412.6L2084.2 1421.5L2085 1418.2L2085.8 1423.5L2086.6 1422.4L2087.4 1421.1L2088.2 1435.1L2089 1421.1L2089.8 1431.2L2090.6 1420.3L2091.4 1412.1L2092.2 1416.7L2093 1418.1L2093.8 1421.1L2094.6 1408.9L2095.4 1430.5L2096.2 1413.7L2097 1411.2L2097.8 1413.1L2098.6 1417.3L2099.4 1414.5L2100.2 1424.2L2101 1417.9L2101.8 1423.6L2102.6 1427.2L2103.4 1429L2104.2 1437.2L2105 1425.9L2105.8 1434.5L2106.6 1428.1L2107.4 1425L2108.2 1423.6L2109 1429.2L2109.8 1429.5L2110.6 1420.4L2111.4 1434.7L2112.2 1440.3L2113 1428L2113.8 1441L2114.6 1443.8L2115.4 1424.8L2116.2 1422L2117 1419.5L2117.8 1432L2118.6 1445L2119.4 1422.8L2120.2 1434.5L2121 1434.2L2121.8 1446.4L2122.6 1433.1L2123.4 1417.2L2124.2 1424.8L2125 1443.8L2125.8 1434.6L2126.6 1441.4L2127.4 1418.3L2128.2 1434.4L2129 1428.5L2129.8 1447.1L2130.6 1437.7L2131.4 1435.7L2132.2 1424.9L2133 1427L2133.8 1423.1L2134.6 1423.8L2135.4 1432.1L2136.2 1441.6L2137 1443.1L2137.8 1434.8L2138.6 1447.8L2139.4 1426L2140.2 1447.6L2141 1433.3L2141.8 1437.7L2142.6 1438.3L2143.4 1447.7L2144.2 1427.3L2145 1440.4L2145.8 1450.4L2146.6 1444.8L2147.4 1431.8L2148.2 1442.9L2149 1440.4L2149.8 1449.1L2150.6 1442.5L2151.4 1446.5L2152.2 1445.5L2153 1426.7L2153.8 1438.7L2154.6 1447.8L2155.4 1449.9L2156.2 1429.3L2157 1443.6L2157.8 1441.6L2158.6 1431L2159.4 1450.8L2160.2 1428.4L2161 1448.9L2161.8 1435.3L2162.6 1427.3L2163.4 1428.5L2164.2 1431.8L2165 1438.5L2165.8 1432.4L2166.6 1430.8L2167.4 1436L2168.2 1429.5L2169 1435.2L2169.8 1427L2170.6 1440.7L2171.4 1444.4L2172.2 1434.4L2173 1427.9L2173.8 1430.5L2174.6 1444.8L2175.4 1444.6L2176.2 1446.6L2177 1429.1L2177.8 1429.4L2178.6 1433.8L2179.4 1451.7L2180.2 1452.9L2181 1440L2181.8 1436.7L2182.6 1455.1L2183.4 1441.5L2184.2 1447.4L2185 1449L2185.8 1457.8L2186.6 1453.1L2187.4 1429.6L2188.2 1453.1L2189 1437.7L2189.8 1456.8L2190.6 1450L2191.4 1434.6L2192.2 1432.1L2193 1444.4L2193.8 1446.5L2194.6 1440.4L2195.4 1447.2L2196.2 1456.7L2197 1447.7L2197.8 1433.1L2198.6 1433.5L2199.4 1445.4L2200.2 1432.4L2201 1434.6L2201.8 1456L2202.6 1439.7L2203.4 1456.8L2204.2 1456.6L2205 1442.9L2205.8 1453.3L2206.6 1434.5L2207.4 1445L2208.2 1451.6L2209 1443.8L2209.8 1441.3L2210.6 1450.9L2211.4 1434.3L2212.2 1457.1L2213 1454.4L2213.8 1451.4L2214.6 1447.5L2215.4 1435.1L2216.2 1442L2217 1441.2L2217.8 1449.8L2218.6 1447.2L2219.4 1461.8L2220 1439.5"/>
<path stroke="#e070ff" stroke-width="15.3" d="M318.6 825.5L319.4 839.4L320.2 847.6L321 828.7L321.8 834.6L322.6 863.1L323.4 828.4L324.2 831.5L325 866.2L325.8 853L326.6 848L327.4 853.4L328.2 856.4L329 844.1L329.8 839.9L330.6 864.6L331.4 862.7L332.2 859.8L333 873L333.8 859.1L334.6 876.3L335.4 853.7L336.2 865.6L337 862.4L337.8 852.9L338.6 865.2L339.4 855.6L340.2 875.1L341 883.8L341.8 853.8L342.6 867.1L343.4 858L344.2 851.8L345 882.6L345.8 866.5L346.6 857.9L347.4 878.8L348.2 862.2L349 889.7L349.8 860.5L350.6 858L351.4 864.7L352.2 873.5L353 874.6L353.8 892.2L354.6 882.8L355.4 873.3L356.2 862.2L357 865.8L357.8 897L358.6 879.2L359.4 889.5L360.2 863.5L361 867.9L361.8 895.1L362.6 891.4L363.4 881.1L364.2 878L365 870.1L365.8 880.5L366.6 872L367.4 901.9L368.2 887.1L369 876.2L369.8 901.1L370.6 881.9L371.4 874.7L372.2 899.3L373 908.7L373.8 875.4L374.6 908.5L375.4 884.5L376.2 883.9L377 879L377.8 891.6L378.6 903.7L379.4 900.3L380.2 909.9L381 891.4L381.8 889.7L382.6 893.7L383.4 922L384.2 920.8L385 901.4L385.8 900.5L386.6 902.4L387.4 918.7L388.2 887.7L389 890.1L389.8 903.3L390.6 899.3L391.4 921.9L392.2 913L393 913.1L393.8 916L394.6 915.9L395.4 923.9L396.2 926.9L397 902.7L397.8 919L398.6 900.3L399.4 914.8L400.2 926.8L401 928.3L401.8 921.5L402.6 898.2L403.4 912.9L404.2 904.4L405 939.3L405.8 905.7L406.6 909.6L407.4 914.5L408.2 901.4L409 932.6L409.8 923.4L410.6 903L411.4 916.8L412.2 907.5L413 924.5L413.8 911.9L414.6 902.3L415.4 907.3L416.2 926.5L417 928.2L417.8 916L418.6 932.2L419.4 918.6L420.2 910.3L421 920.4L421.8 917.3L422.6 941.2L423.4 909.2L424.2 909.1L425 926.7L425.8 943.2L426.6 941.4L427.4 934.7L428.2 911.9L429 941.4L429.8 937.9L430.6 916.6L431.4 928.5L432.2 911.4L433 937.1L433.8 938.1L434.6 940.2L435.4 940.7L436.2 917.4L437 946.3L437.8 918.5L438.6 917.6L439.4 929.1L440.2 928.1L441 922.6L441.8 931.2L442.6 932.7L443.4 918.9L444.2 937.5L445 928.7L445.8 941.3L446.6 929.1L447.4 948L448.2 931.5L449 936.3L449.8 940.8L450.6 935.2L451.4 929.9L452.2 953.8L453 921.1L453.8 929.8L454.6 939.8L455.4 919.2L456.2 925.5L457 948.1L457.8 950.8L458.6 945.2L459.4 949.2L460.2 946.8L461 932.3L461.8 942.2L462.6 934L463.4 947.7L464.2 935.1L465 925.3L465.8 952L466.6 945.7L467.4 943.3L468.2 937.7L469 945.4L469.8 939.1L470.6 940.2L471.4 922.1L472.2 939.3L473 947L473.8 942.4L474.6 949.2L475.4 935.4L476.2 953.4L477 922.4L477.8 949.7L478.6 930.7L479.4 920.8L480.2 939.9L481 937.1L481.8 937.8L482.6 945.4L483.4 922.7L484.2 940.9L485 930L485.8 934.7L486.6 934L487.4 916.6L488.2 936.9L489 948L489.8 923L490.6 917.7L491.4 920.1L492.2 938.7L493 952.6L493.8 920.6L494.6 951.8L495.4 937.3L496.2 921L497 932.1L497.8 922.9L498.6 941.4L499.4 938L500.2 929.5L501 927.8L501.8 947.4L502.6 946L503.4 928L504.2 934.4L505 944.3L505.8 953.4L506.6 923.3L507.4 922.8L508.2 933.1L509 935.3L509.8 921.8L510.6 919.1L511.4 926.6L512.2 935.1L513 943.2L513.8 938.6L514.6 918.2L515.4 920.1L516.2 939.9L517 947.8L517.8 945.9L518.6 928.9L519.4 945.4L520.2 948.9L521 931.1L521.8 940.9L522.6 927.5L523.4 917L524.2 936.3L525 916.4L525.8 940.8L526.6 945.6L527.4 944.9L528.2 928.8L529 917.4L529.8 946.8L530.6 940L531.4 946.6L532.2 936.9L533 935.1L533.8 924.6L534.6 916.9L535.4 917.8L536.2 937.5L537 921.4L537.8 933.9L538.6 927.9L539.4 925.7L540.2 938L541 913.8L541.8 922.6L542.6 911.8L543.4 937.4L544.2 920.3L545 918L545.8 909.5L546.6 923.6L547.4 915.9L548.2 906.3L549 902L549.8 909.1L550.6 918.6L551.4 917L552.2 932.1L553 933.2L553.8 928.4L554.6 928.9L555.4 912.6L556.2 914.4L557 906.9L557.8 906.1L558.6 896.9L559.4 919.8L560.2 899.4L561 893.6L561.8 909.9L562.6 911.2L563.4 903.2L564.2 900.2L565 914L565.8 896.8L566.6 885.1L567.4 906.1L568.2 904.2L569 916.1L569.8 895.9L570.6 910.9L571.4 879.1L572.2 874.3L573 896.8L573.8 886L574.6 880.7L575.4 875.4L576.2 884.4L577 886L577.8 886L578.6 905.3L579.4 886.6L580.2 870.5L581 891.9L581.8 868.1L582.6 884.4L583.4 878.6L584.2 879.1L585 866.8L585.8 885.7L586.6 885.6L587.4 888.9L588.2 892.2L589 873.7L589.8 882.5L590.6 877.8L591.4 864.6L592.2 887.7L593 880.3L593.8 889.3L594.6 881.9L595.4 883.3L596.2 858.8L597 854.1L597.8 854.8L598.6 860.2L599.4 873.6L600.2 859.3L601 868.8L601.8 870.2L602.6 846.6L603.4 862.4L604.2 841.3L605 849.8L605.8 864.2L606.6 859.5L607.4 854.7L608.2 845.8L609 861.6L609.8 839.6L610.6 830.2L611.4 840.2L612.2 826.1L613 854.9L613.8 826.8L614.6 860.5L615.4 828.6L616.2 832.6L617 840.5L617.8 826.5L618.6 830.2L619.4 819.2L620.2 823.3L621 812.5L621.8 824.2L622.6 838.8L623.4 816.4L624.2 810L625 826.8L625.8 830.1L626.6 810.1L627.4 809.4L628.2 817.3L629 823.2L629.8 812L630.6 792.8L631.4 793.3L632.2 810L633 809.2L633.8 813.1L634.6 806.3L635.4 793.8L636.2 777.3L637 807.5L637.8 792.1L638.6 793.8L639.4 792.5L640.2 778.9L641 774.5L641.8 783.6L642.6 776.8L643.4 782.9L644.2 791.6L645 783.1L645.8 764.9L646.6 763.6L647.4 782.7L648.2 758.6L649 771.5L649.8 743.4L650.6 755.3L651.4 756.7L652.2 759.2L653 760.6L653.8 731.8L654.6 747L655.4 746.4L656.2 722.8L657 744.7L657.8 733.5L658.6 739.8L659.4 709.8L660.2 719.4L661 709.8L661.8 718.5L662.6 712.2L663.4 710.3L664.2 694.7L665 698.8L665.8 693.3L666.6 707.8L667.4 687L668.2 684.7L669 674.2L669.8 668.5L670.6 691.4L671.4 661.2L672.2 679.6L673 662.2L673.8 673.9L674.6 640.1L675.4 669.4L676.2 655.7L677 646.1L677.8 644.6L678.6 642.7L679.4 628.8L680.2 630.2L681 615.3L681.8 598.3L682.6 622.8L683.4 615.8L684.2 619.4L685 593.9L685.8 606L686.6 611L687.4 599.6L688.2 602.5L689 566.4L689.8 558.8L690.6 557.3L691.4 556.3L692.2 544.9L693 543.1L693.8 529.9L694.6 555.3L695.4 529.6L696.2 535.4L697 517.7L697.8 529L698.6 525.1L699.4 498L700.2 506L701 478.8L701.8 483.4L702.6 479.1L703.4 470.8L704.2 465.9L705 471.5L705.8 457.8L706.6 454.7L707.4 467.1L708.2 432.7L709 427.6L709.8 425.2L710.6 448L711.4 437.3L712.2 435.1L713 436.2L713.8 410.6L714.6 423.7L715.4 398.2L716.2 399.3L717 402L717.8 401.1L718.6 376.7L719.4 381L720.2 355.6L721 367.9L721.8 383.2L722.6 374.1L723.4 358.1L724.2 371L725 371.2L725.8 344.5L726.6 367.3L727.4 347.1L728.2 332L729 342.4L729.8 344L730.6 348.2L731.4 344.8L732.2 328.8L733 344.9L733.8 350.1L734.6 344L735.4 360.5L736.2 343.1L737 355.6L737.8 333.2L738.6 364.7L739.4 348.3L740.2 362.6L741 350.3L741.8 358.2L742.6 375.1L743.4 386.7L744.2 391.9L745 411.4L745.8 390.8L746.6 401.4L747.4 428.3L748.2 446.3L749 443.5L749.8 437.3L750.6 438.3L751.4 457.3L752.2 463.5L753 472.1L753.8 480.2L754.6 476.6L755.4 504.3L756.2 489.8L757 496.3L757.8 510.3L758.6 539.1L759.4 522.8L760.2 534.2L761 570.4L761.8 559.1L762.6 585.8L763.4 560.3L764.2 600.4L765 588.9L765.8 589.8L766.6 620.5L767.4 637.1L768.2 636.5L769 641.4L769.8 652.5L770.6 661.5L771.4 653.4L772.2 641.4L773 671.3L773.8 661.5L774.6 661.6L775.4 675.4L776.2 658.1L777 670.7L777.8 679.3L778.6 698.2L779.4 707.7L780.2 719L781 718.1L781.8 726.3L782.6 715.2L783.4 724.6L784.2 726.3L785 706.1L785.8 708L786.6 742.5L787.4 722.6L788.2 746.6L789 733.2L789.8 719.2L790.6 741.9L791.4 738.8L792.2 725.8L793 731.2L793.8 736.1L794.6 737.7L795.4 759.5L796.2 737.8L797 750.6L797.8 759.9L798.6 774.1L799.4 748L800.2 746.9L801 751.8L801.8 762.9L802.6 758.3L803.4 758.6L804.2 765.6L805 769.6L805.8 782.9L806.6 793.4L807.4 781.9L808.2 780.5L809 778.2L809.8 790.8L810.6 784.4L811.4 800.7L812.2 818.2L813 810.2L813.8 797.1L814.6 793.2L815.4 794.4L816.2 811L817 813L817.8 824.8L818.6 803.7L819.4 812L820.2 830.7L821 829.9L821.8 828.5L822.6 843.7L823.4 818.4L824.2 815.7L825 830.3L825.8 829.4L826.6 852L827.4 846L828.2 837.7L829 846.5L829.8 840.4L830.6 822.5L831.4 841L832.2 833.3L833 831.1L833.8 828.5L834.6 824.7L835.4 854.7L836.2 850.5L837 854.8L837.8 836.5L838.6 841.3L839.4 832.5L840.2 850.6L841 857.7L841.8 858.2L842.6 863.2L843.4 841.7L844.2 854L845 835.7L845.8 851.6L846.6 836.9L847.4 854.5L848.2 853.5L849 848L849.8 850.9L850.6 862L851.4 850.1L852.2 847.1L853 841.5L853.8 845.8L854.6 868L855.4 872L856.2 854.1L857 872.2L857.8 867.7L858.6 847.5L859.4 848.7L860.2 862.2L861 852.8L861.8 874.9L862.6 855.3L863.4 873.3L864.2 870.4L865 852.6L865.8 873.2L866.6 852.6L867.4 850.4L868.2 845.4L869 861L869.8 867L870.6 855.5L871.4 881.5L872.2 855.3L873 876.7L873.8 848.9L874.6 857.8L875.4 851.4L876.2 861L877 860.5L877.8 863.4L878.6 879L879.4 869.3L880.2 870.8L881 864.7L881.8 880.7L882.6 866.9L883.4 878.5L884.2 886.9L885 875.5L885.8 866.9L886.6 863.3L887.4 887.8L888.2 884.6L889 881.1L889.8 865.7L890.6 871.4L891.4 889.3L892.2 867.8L893 885.3L893.8 875.9L894.6 866.2L895.4 874L896.2 860.9L897 880.9L897.8 884.7L898.6 862.2L899.4 874L900.2 887.6L901 867.8L901.8 880.6L902.6 890.6L903.4 880.7L904.2 866L905 896L905.8 890.2L906.6 883.7L907.4 873.4L908.2 883.7L909 876.7L909.8 871L910.6 872.2L911.4 867.3L912.2 874.8L913 873.7L913.8 887.9L914.6 884L915.4 887.9L916.2 895L917 870.3L917.8 881.9L918.6 869.5L919.4 880L920.2 870.3L921 870L921.8 871.8L922.6 883.7L923.4 895.5L924.2 878.3L925 899.3L925.8 879.8L926.6 879.5L927.4 884.5L928.2 871.5L929 886.9L929.8 892.9L930.6 905.2L931.4 872L932.2 899.8L933 890.6L933.8 892L934.6 872.2L935.4 900.8L936.2 883.7L937 891.6L937.8 894L938.6 903.7L939.4 894.4L940.2 909.5L941 876.9L941.8 893.8L942.6 895.3L943.4 891.8L944.2 892L945 891.8L945.8 883.6L946.6 896L947.4 880.5L948.2 890.5L949 895.3L949.8 882.1L950.6 894.1L951.4 903L952.2 882.3L953 889.8L953.8 882.8L954.6 900.6L955.4 882.7L956.2 882.1L957 892.3L957.8 895.5L958.6 880.3L959.4 914.8L960.2 886.8L961 904.3L961.8 892.7L962.6 903.6L963.4 895.8L964.2 894.3L965 901.3L965.8 904.3L966.6 903.6L967.4 908.8L968.2 894L969 884.6L969.8 894.7L970.6 897.4L971.4 908.3L972.2 900.2L973 899.2L973.8 892.3L974.6 907.8L975.4 893L976.2 909.1L977 915.6L977.8 910.2L978.6 893.8L979.4 903.5L980.2 922.8L981 900.3L981.8 914.8L982.6 906.6L983.4 916.6L984.2 906.8L985 893.6L985.8 914.5L986.6 893.2L987.4 925.6L988.2 921.4L989 908.2L989.8 916.1L990.6 916.5L991.4 931.1L992.2 898.7L993 908.1L993.8 914.7L994.6 928.3L995.4 924.4L996.2 918L997 900.8L997.8 926.6L998.6 915.6L999.4 908.3L1000.2 926.5L1001 920.7L1001.8 917.2L1002.6 916.3L1003.4 925.3L1004.2 916.1L1005 918.8L1005.8 941.7L1006.6 921.1L1007.4 913.5L1008.2 927.8L1009 942.8L1009.8 945.2L1010.6 937.3L1011.4 946.8L1012.2 939.2L1013 938.7L1013.8 931.7L1014.6 920.9L1015.4 942.1L1016.2 938.7L1017 949.1L1017.8 926.5L1018.6 945.9L1019.4 926.7L1020.2 952.1L1021 953.5L1021.8 922.2L1022.6 930.7L1023.4 959L1024.2 960.3L1025 947L1025.8 925.9L1026.6 920.1L1027.4 936.8L1028.2 959.1L1029 951.1L1029.8 942.9L1030.6 949.5L1031.4 957.7L1032.2 937L1033 958L1033.8 935L1034.6 945.2L1035.4 929.6L1036.2 935.9L1037 949.7L1037.8 927.8L1038.6 949.3L1039.4 937.9L1040.2 960.8L1041 936.2L1041.8 941.1L1042.6 942.3L1043.4 956.1L1044.2 958.2L1045 963.3L1045.8 960.7L1046.6 959.2L1047.4 949.8L1048.2 946.9L1049 945.1L1049.8 973.9L1050.6 951.6L1051.4 960.8L1052.2 942.8L1053 953.4L1053.8 942.7L1054.6 953.2L1055.4 966.9L1056.2 955.4L1057 968.5L1057.8 951L1058.6 959.1L1059.4 959.9L1060.2 962.9L1061 954.9L1061.8 968.2L1062.6 982L1063.4 976L1064.2 950.7L1065 962.9L1065.8 962.1L1066.6 969.5L1067.4 951.1L1068.2 973.8L1069 962.6L1069.8 987.8L1070.6 953.7L1071.4 966.2L1072.2 969.3L1073 980.2L1073.8 975.6L1074.6 955.5L1075.4 963L1076.2 979.9L1077 966.8L1077.8 965.9L1078.6 989.8L1079.4 986.3L1080.2 965.1L1081 975.9L1081.8 990.5L1082.6 962.7L1083.4 986.1L1084.2 994.6L1085 986.6L1085.8 983.5L1086.6 988.2L1087.4 982.6L1088.2 983L1089 969.2L1089.8 984L1090.6 990L1091.4 980.7L1092.2 987.5L1093 981.8L1093.8 987.4L1094.6 991.2L1095.4 967.9L1096.2 993.7L1097 976.4L1097.8 970.7L1098.6 972.1L1099.4 979.9L1100.2 987.1L1101 981.9L1101.8 975.7L1102.6 999.8L1103.4 980.3L1104.2 1002.9L1105 981.2L1105.8 994L1106.6 984.3L1107.4 1006.3L1108.2 996.3L1109 996.3L1109.8 971.1L1110.6 1002.5L1111.4 988.1L1112.2 1003.5L1113 1010.9L1113.8 980.8L1114.6 977.7L1115.4 1003.1L1116.2 1012.5L1117 1010.5L1117.8 995.9L1118.6 1010.2L1119.4 978.6L1120.2 980.8L1121 1004.1L1121.8 997.4L1122.6 1012.2L1123.4 993.2L1124.2 999.7L1125 1018.2L1125.8 996.2L1126.6 998L1127.4 1004.9L1128.2 1018.8L1129 992.9L1129.8 1010.6L1130.6 1002.8L1131.4 998.6L1132.2 993.9L1133 1001.5L1133.8 1007.4L1134.6 999.1L1135.4 1007.1L1136.2 1010.9L1137 1016.2L1137.8 1001.8L1138.6 998.2L1139.4 1026.5L1140.2 995.2L1141 991.5L1141.8 1021.7L1142.6 1000.7L1143.4 991.9L1144.2 1000.5L1145 1000.2L1145.8 1004.6L1146.6 1024.2L1147.4 1003.9L1148.2 997.3L1149 998.1L1149.8 1029.4L1150.6 1008.6L1151.4 1007.1L1152.2 1022.3L1153 1027.4L1153.8 1011.9L1154.6 1023.4L1155.4 1002.4L1156.2 1009.1L1157 1016.6L1157.8 1007.2L1158.6 1002.8L1159.4 1006.3L1160.2 1006.6L1161 1027.4L1161.8 1024.6L1162.6 1000.3L1163.4 1007.5L1164.2 1026.3L1165 1029.1L1165.8 1020.5L1166.6 1026.9L1167.4 1006.6L1168.2 1026.9L1169 1028.2L1169.8 1016.4L1170.6 1008.4L1171.4 1001.3L1172.2 1024L1173 1022.5L1173.8 1004.4L1174.6 1016.7L1175.4 1036.5L1176.2 1004.1L1177 1002.5L1177.8 1004L1178.6 1016.5L1179.4 1015.9L1180.2 1028.9L1181 1003.1L1181.8 1005.3L1182.6 1033.3L1183.4 1004L1184.2 1009.4L1185 1009.7L1185.8 997.4L1186.6 1008.3L1187.4 1024.3L1188.2 1021.1L1189 1019L1189.8 1026.3L1190.6 1023.2L1191.4 1002.5L1192.2 1022.4L1193 1024.7L1193.8 1008.2L1194.6 1011.5L1195.4 1006.7L1196.2 1030.1L1197 1010.4L1197.8 1008.2L1198.6 1027.8L1199.4 1026.8L1200.2 1036.2L1201 1025.3L1201.8 1014.6L1202.6 1018L1203.4 1018.1L1204.2 1023.4L1205 1036.9L1205.8 1009.1L1206.6 1030.7L1207.4 1000.8L1208.2 1008.4L1209 1033.3L1209.8 1008.2L1210.6 1016.1L1211.4 1034.4L1212.2 1023.9L1213 1018L1213.8 1023.8L1214.6 1033.7L1215.4 1033.5L1216.2 1008.5L1217 1006.7L1217.8 1009.9L1218.6 1006.8L1219.4 1032.3L1220.2 1031.2L1221 1010.4L1221.8 1004.6L1222.6 1015.5L1223.4 1024.6L1224.2 1031.3L1225 1015L1225.8 1024.5L1226.6 1033.3L1227.4 1028.4L1228.2 1002.3L1229 1029.1L1229.8 1029.9L1230.6 1036.4L1231.4 1016.3L1232.2 1000.2L1233 1018.4L1233.8 1012.8L1234.6 1013.8L1235.4 1028.6L1236.2 1022.4L1237 1023L1237.8 1026.7L1238.6 1006.5L1239.4 1001.1L1240.2 1013.6L1241 1032.9L1241.8 1024.3L1242.6 1029L1243.4 1019.8L1244.2 1027.2L1245 1033.3L1245.8 1021.3L1246.6 1032.6L1247.4 1033.9L1248.2 1025.3L1249 1026.6L1249.8 1003.8L1250.6 1005L1251.4 1033.6L1252.2 1009.6L1253 1007.2L1253.8 1004.1L1254.6 1022L1255.4 1002.9L1256.2 1027.3L1257 1007.1L1257.8 1024.9L1258.6 1030L1259.4 1026.1L1260.2 1014.7L1261 1021.1L1261.8 1028.9L1262.6 1025.1L1263.4 1005.6L1264.2 995.7L1265 1024.9L1265.8 1022.2L1266.6 1000.5L1267.4 1018.2L1268.2 1018.2L1269 1010.9L1269.8 1026.4L1270.6 1007.8L1271.4 999.8L1272.2 1006.5L1273 1005.8L1273.8 1028.1L1274.6 1019L1275.4 1001.2L1276.2 1008.7L1277 996.4L1277.8 1022.2L1278.6 1029.1L1279.4 1000.3L1280.2 1013.2L1281 1004.9L1281.8 1001.7L1282.6 1021.1L1283.4 1032.5L1284.2 1005.8L1285 1012.3L1285.8 1007.6L1286.6 996.4L1287.4 1017.6L1288.2 996.8L1289 1017.7L1289.8 1021.6L1290.6 999.7L1291.4 1016.4L1292.2 1001.1L1293 1020.6L1293.8 1004.7L1294.6 1020L1295.4 1013.2L1296.2 1013.1L1297 1000.3L1297.8 1023.2L1298.6 1007.6L1299.4 1017.4L1300.2 1010.7L1301 1004.7L1301.8 1016.2L1302.6 1003.2L1303.4 1018.8L1304.2 1006.4L1305 1017.1L1305.8 1015.8L1306.6 1024.7L1307.4 1001.9L1308.2 1000.5L1309 1025.7L1309.8 1010.4L1310.6 1007.7L1311.4 1021.7L1312.2 999.4L1313 1022.8L1313.8 1017.3L1314.6 1014.5L1315.4 1000.2L1316.2 1016.1L1317 1021.9L1317.8 1017.3L1318.6 1018.5L1319.4 989.2L1320.2 1017.5L1321 1014.5L1321.8 1005.4L1322.6 990L1323.4 1009.9L1324.2 997.2L1325 986.3L1325.8 1023.1L1326.6 1015.2L1327.4 1013.2L1328.2 1016.3L1329 1009.4L1329.8 1003.4L1330.6 989.4L1331.4 992.7L1332.2 1004.3L1333 1005.2L1333.8 995.5L1334.6 989.3L1335.4 997.3L1336.2 990.3L1337 1014.2L1337.8 988.5L1338.6 994.9L1339.4 998.6L1340.2 987.4L1341 1000.1L1341.8 998.7L1342.6 983.1L1343.4 1009.2L1344.2 995.5L1345 980.1L1345.8 1009.8L1346.6 980.2L1347.4 1000.3L1348.2 990.3L1349 986.6L1349.8 988.2L1350.6 988.4L1351.4 984.5L1352.2 982.5L1353 987.8L1353.8 985.7L1354.6 997.8L1355.4 974.8L1356.2 971.1L1357 1003.9L1357.8 966.9L1358.6 992L1359.4 991.3L1360.2 1004L1361 974.1L1361.8 998.8L1362.6 968.8L1363.4 971.6L1364.2 991.7L1365 972.6L1365.8 988.7L1366.6 991.4L1367.4 972.3L1368.2 991.8L1369 981.2L1369.8 1000.5L1370.6 965.9L1371.4 966.9L1372.2 983.3L1373 976L1373.8 981.3L1374.6 1002.6L1375.4 978.4L1376.2 969.5L1377 970.2L1377.8 982.7L1378.6 992L1379.4 987.5L1380.2 979.8L1381 970.3L1381.8 963.8L1382.6 971.6L1383.4 970.1L1384.2 993.6L1385 975.9L1385.8 966.6L1386.6 981L1387.4 971.2L1388.2 955.9L1389 992.8L1389.8 989.6L1390.6 960.2L1391.4 985.4L1392.2 968.1L1393 977.4L1393.8 973.9L1394.6 971.6L1395.4 960.3L1396.2 945.9L1397 967.2L1397.8 953L1398.6 952.3L1399.4 963L1400.2 952.8L1401 964.2L1401.8 937.6L1402.6 941.6L1403.4 919.7L1404.2 911.9L1405 914.5L1405.8 904.8L1406.6 902.1L1407.4 889.6L1408.2 899.9L1409 869.5L1409.8 855.4L1410.6 857.9L1411.4 832.1L1412.2 801.5L1413 774.8L1413.8 737.3L1414.6 691.4L1415.4 689.3L1416.2 638.9L1417 644.6L1417.8 618.3L1418.6 605.1L1419.4 601.4L1419.8 600.5L1420.2 603.9L1421 615.5L1421.8 630.4L1422.6 638.9L1423.4 665.1L1424.2 672.2L1425 705.8L1425.8 693.5L1426.6 718.5L1427.4 718.5L1428.2 749.5L1429 761.8L1429.8 752.5L1430.6 781.7L1431.4 771.1L1432.2 803.8L1433 797L1433.8 809.2L1434.6 834.8L1435.4 839.1L1436.2 853.3L1437 888.3L1437.8 910L1438.6 939.2L1439.4 926.4L1440.2 937.6L1441 939.5L1441.8 953.5L1442.6 955.8L1443.4 975.8L1444.2 997.6L1445 981.6L1445.8 1005.1L1446.6 1002.8L1447.4 1005.6L1448.2 1020.5L1449 1024.9L1449.8 1028.2L1450.6 1018L1451.4 1037.4L1452.2 1052L1453 1023.6L1453.8 1028.4L1454.6 1047.5L1455.4 1037.8L1456.2 1041L1457 1069.6L1457.8 1042.8L1458.6 1069.8L1459.4 1058.9L1460.2 1035.6L1461 1050.3L1461.8 1047.2L1462.6 1061.7L1463.4 1076.6L1464.2 1051L1465 1046.9L1465.8 1048.7L1466.6 1060.2L1467.4 1059.8L1468.2 1090.1L1469 1082L1469.8 1089.8L1470.6 1079.2L1471.4 1088.2L1472.2 1084.5L1473 1070.3L1473.8 1088.5L1474.6 1074.7L1475.4 1088.9L1476.2 1098.2L1477 1074.8L1477.8 1076.1L1478.6 1102.4L1479.4 1089.8L1480.2 1080.8L1481 1087.3L1481.8 1086.1L1482.6 1111.3L1483.4 1100.8L1484.2 1112.7L1485 1098.2L1485.8 1119L1486.6 1121.1L1487.4 1109.4L1488.2 1120.1L1489 1101.4L1489.8 1096.9L1490.6 1118.5L1491.4 1100.9L1492.2 1120L1493 1127.3L1493.8 1127.4L1494.6 1139.6L1495.4 1113.5L1496.2 1136L1497 1129.8L1497.8 1134.7L1498.6 1129.9L1499.4 1143L1500.2 1124.9L1501 1117.1L1501.8 1144.8L1502.6 1142.6L1503.4 1145.9L1504.2 1124.8L1505 1129.4L1505.8 1144.5L1506.6 1147.2L1507.4 1145L1508.2 1145.8L1509 1150.3L1509.8 1130.9L1510.6 1141L1511.4 1138.7L1512.2 1149.6L1513 1144L1513.8 1153.2L1514.6 1153.5L1515.4 1161L1516.2 1159.9L1517 1129.5L1517.8 1153.5L1518.6 1145.2L1519.4 1131.4L1520.2 1146.9L1521 1162.5L1521.8 1165.3L1522.6 1139.3L1523.4 1145.3L1524.2 1163.2L1525 1169.9L1525.8 1139.3L1526.6 1138.1L1527.4 1165.7L1528.2 1162.7L1529 1170.2L1529.8 1149.1L1530.6 1160.1L1531.4 1171.4L1532.2 1157.3L1533 1160.8L1533.8 1144.2L1534.6 1172L1535.4 1162.4L1536.2 1163.3L1537 1172.2L1537.8 1179.1L1538.6 1182.7L1539.4 1163.1L1540.2 1169.1L1541 1163.9L1541.8 1178.5L1542.6 1181.7L1543.4 1177.2L1544.2 1185.6L1545 1178.5L1545.8 1175.6L1546.6 1162.7L1547.4 1182.1L1548.2 1162.3L1549 1177L1549.8 1157.4L1550.6 1174.2L1551.4 1180.1L1552.2 1180L1553 1182L1553.8 1169.7L1554.6 1182.7L1555.4 1183.6L1556.2 1182.3L1557 1177.3L1557.8 1170.8L1558.6 1179.7L1559.4 1167.1L1560.2 1196.1L1561 1176.7L1561.8 1175.8L1562.6 1177.9L1563.4 1169.5L1564.2 1193.2L1565 1198.7L1565.8 1192.5L1566.6 1189.2L1567.4 1202.6L1568.2 1178.9L1569 1183.5L1569.8 1171L1570.6 1185.3L1571.4 1202.9L1572.2 1192.7L1573 1186.6L1573.8 1186L1574.6 1190.5L1575.4 1193L1576.2 1182.9L1577 1187.7L1577.8 1176.6L1578.6 1187.8L1579.4 1198.4L1580.2 1179.8L1581 1182.2L1581.8 1203.8L1582.6 1178.6L1583.4 1180.6L1584.2 1201.8L1585 1175.1L1585.8 1188.5L1586.6 1206.9L1587.4 1188.8L1588.2 1207.4L1589 1202.3L1589.8 1175.1L1590.6 1184.5L1591.4 1211.1L1592.2 1191.1L1593 1195.2L1593.8 1215.8L1594.6 1184.3L1595.4 1216.9L1596.2 1204.7L1597 1203.5L1597.8 1183.6L1598.6 1206.7L1599.4 1217.3L1600.2 1199.7L1601 1185.8L1601.8 1191.2L1602.6 1187.9L1603.4 1204.5L1604.2 1212.4L1605 1187.8L1605.8 1200.8L1606.6 1202.8L1607.4 1202.7L1608.2 1204.7L1609 1204.9L1609.8 1197.8L1610.6 1222.3L1611.4 1212.8L1612.2 1203.3L1613 1227.7L1613.8 1216L1614.6 1195.7L1615.4 1230.9L1616.2 1216.1L1617 1205.8L1617.8 1202.4L1618.6 1199.5L1619.4 1205L1620.2 1205.6L1621 1209.3L1621.8 1232.3L1622.6 1217.5L1623.4 1202.8L1624.2 1213.1L1625 1212.7L1625.8 1198.9L1626.6 1219.5L1627.4 1220.1L1628.2 1233.3L1629 1215.2L1629.8 1225.3L1630.6 1221.8L1631.4 1207L1632.2 1222.1L1633 1217.1L1633.8 1208.5L1634.6 1201.3L1635.4 1238.6L1636.2 1202.6L1637 1234.8L1637.8 1215.1L1638.6 1203.6L1639.4 1237.6L1640.2 1227.8L1641 1217.6L1641.8 1236.6L1642.6 1228.7L1643.4 1221.9L1644.2 1232.5L1645 1230.6L1645.8 1214.7L1646.6 1228.5L1647.4 1239.9L1648.2 1230.8L1649 1236.4L1649.8 1238.4L1650.6 1232.3L1651.4 1221.3L1652.2 1226.5L1653 1234.1L1653.8 1229.2L1654.6 1208.4L1655.4 1207.1L1656.2 1213.4L1657 1235.1L1657.8 1215.7L1658.6 1220.3L1659.4 1235.3L1660.2 1213.7L1661 1214L1661.8 1217.7L1662.6 1206.3L1663.4 1234.1L1664.2 1216.4L1665 1219.6L1665.8 1217.8L1666.6 1212.4L1667.4 1236L1668.2 1213.2L1669 1217.6L1669.8 1233.6L1670.6 1220.1L1671.4 1226.1L1672.2 1215.2L1673 1225.2L1673.8 1215.9L1674.6 1217.5L1675.4 1201.8L1676.2 1197.3L1677 1216.7L1677.8 1222.7L1678.6 1227.9L1679.4 1220.7L1680.2 1208.9L1681 1207.2L1681.8 1205.5L1682.6 1208.3L1683.4 1206.2L1684.2 1187.9L1685 1187.1L1685.8 1189.3L1686.6 1168.6L1687.4 1157L1688.2 1180.3L1689 1136.7L1689.8 1165.2L1690.6 1158.2L1691.4 1121.8L1692.2 1134.1L1693 1109.3L1693.8 1096.2L1694.6 1117.6L1695.4 1104L1696.2 1093.6L1697 1083.7L1698 1082L1698.6 1083.1L1699.4 1092.4L1700.2 1092.2L1701 1084L1701.8 1108.4L1702.6 1114L1703.4 1119L1704.2 1119.5L1705 1098.8L1705.8 1139.4L1706.6 1128L1707.4 1123.8L1708.2 1130L1709 1138.1L1709.8 1165.2L1710.6 1145.2L1711.4 1179.5L1712.2 1151.6L1713 1184.8L1713.8 1168.9L1714.6 1188.8L1715.4 1180L1716.2 1208L1717 1185.5L1717.8 1201.7L1718.6 1207.1L1719.4 1211.5L1720.2 1205.1L1721 1206.2L1721.8 1234.2L1722.6 1211.3L1723.4 1206.9L1724.2 1238.1L1725 1236.7L1725.8 1232.4L1726.6 1232.4L1727.4 1249.4L1728.2 1228.1L1729 1219.4L1729.8 1233.7L1730.6 1237.8L1731.4 1240.1L1732.2 1253.7L1733 1230L1733.8 1253.9L1734.6 1244.3L1735.4 1256.8L1736.2 1246.9L1737 1238.6L1737.8 1247.8L1738.6 1244.8L1739.4 1246.9L1740.2 1260.4L1741 1262.9L1741.8 1245.1L1742.6 1252.2L1743.4 1254.9L1744.2 1271.9L1745 1268L1745.8 1264.7L1746.6 1268L1747.4 1260L1748.2 1273.3L1749 1273.2L1749.8 1267.5L1750.6 1250.6L1751.4 1261.5L1752.2 1255.4L1753 1253.7L1753.8 1255.2L1754.6 1276.9L1755.4 1258.8L1756.2 1266.9L1757 1260.7L1757.8 1254.9L1758.6 1270L1759.4 1266.3L1760.2 1284.6L1761 1272.4L1761.8 1290.1L1762.6 1281.4L1763.4 1269L1764.2 1257.3L1765 1256.8L1765.8 1257.6L1766.6 1278.9L1767.4 1253.8L1768.2 1273.7L1769 1265.5L1769.8 1266.5L1770.6 1279.3L1771.4 1265.5L1772.2 1258.7L1773 1264.2L1773.8 1286.1L1774.6 1272.4L1775.4 1263.2L1776.2 1259L1777 1258.6L1777.8 1267.4L1778.6 1281.9L1779.4 1273.5L1780.2 1286.1L1781 1297.3L1781.8 1277.4L1782.6 1268.2L1783.4 1286.8L1784.2 1259.1L1785 1287.2L1785.8 1293.8L1786.6 1288.9L1787.4 1262.7L1788.2 1281L1789 1290.8L1789.8 1278.7L1790.6 1291.3L1791.4 1267.3L1792.2 1284L1793 1283.7L1793.8 1292.7L1794.6 1279.9L1795.4 1272.1L1796.2 1290.2L1797 1271.8L1797.8 1278.7L1798.6 1282.7L1799.4 1295.7L1800.2 1283.2L1801 1293.2L1801.8 1290.7L1802.6 1293.1L1803.4 1307.9L1804.2 1286.1L1805 1291.2L1805.8 1267.8L1806.6 1279.7L1807.4 1282L1808.2 1281L1809 1290.4L1809.8 1280.5L1810.6 1293.4L1811.4 1305L1812.2 1276.5L1813 1284.8L1813.8 1289.8L1814.6 1276.2L1815.4 1274.8L1816.2 1296.6L1817 1292.7L1817.8 1309.1L1818.6 1303.1L1819.4 1303.1L1820.2 1290.2L1821 1290.5L1821.8 1309L1822.6 1300.9L1823.4 1309.9L1824.2 1287.6L1825 1289.5L1825.8 1305.2L1826.6 1288.3L1827.4 1282.3L1828.2 1296.5L1829 1308.9L1829.8 1296.1L1830.6 1309.9L1831.4 1300.2L1832.2 1295L1833 1306L1833.8 1309.8L1834.6 1288.4L1835.4 1303.1L1836.2 1292.2L1837 1321.8L1837.8 1308L1838.6 1297.4L1839.4 1288.2L1840.2 1300.6L1841 1300.9L1841.8 1306.1L1842.6 1315.5L1843.4 1316.2L1844.2 1306.8L1845 1310L1845.8 1310.3L1846.6 1302.5L1847.4 1299.4L1848.2 1308L1849 1320.1L1849.8 1301L1850.6 1318.9L1851.4 1294.1L1852.2 1304.3L1853 1319L1853.8 1325.6L1854.6 1322.1L1855.4 1317L1856.2 1300L1857 1332L1857.8 1316.5L1858.6 1329.4L1859.4 1332.6L1860.2 1302.6L1861 1328.8L1861.8 1301.5L1862.6 1322L1863.4 1307.3L1864.2 1301.2L1865 1316.4L1865.8 1307.1L1866.6 1326.7L1867.4 1317.9L1868.2 1312.4L1869 1300.3L1869.8 1327.2L1870.6 1325.1L1871.4 1332.7L1872.2 1319.7L1873 1337.3L1873.8 1305.7L1874.6 1338.6L1875.4 1330.8L1876.2 1308.4L1877 1341.4L1877.8 1311.5L1878.6 1336L1879.4 1320.4L1880.2 1329.8L1881 1337.9L1881.8 1308.9L1882.6 1319.5L1883.4 1338.3L1884.2 1329.9L1885 1317.9L1885.8 1312.2L1886.6 1317.2L1887.4 1318L1888.2 1329.8L1889 1343.5L1889.8 1331L1890.6 1318.3L1891.4 1329.6L1892.2 1334.2L1893 1331.7L1893.8 1337.6L1894.6 1344.4L1895.4 1343.5L1896.2 1337.3L1897 1321.8L1897.8 1347L1898.6 1350.5L1899.4 1344.1L1900.2 1338L1901 1350.1L1901.8 1321.7L1902.6 1346.2L1903.4 1343.9L1904.2 1346.3L1905 1322.4L1905.8 1360.7L1906.6 1322.7L1907.4 1330.1L1908.2 1343.5L1909 1344.3L1909.8 1332.3L1910.6 1337.1L1911.4 1358.5L1912.2 1339.9L1913 1341.2L1913.8 1328.5L1914.6 1348L1915.4 1350.6L1916.2 1355.2L1917 1336.2L1917.8 1340.6L1918.6 1353.5L1919.4 1365.2L1920.2 1350.6L1921 1336.8L1921.8 1332.6L1922.6 1343.1L1923.4 1348.4L1924.2 1338.1L1925 1359.8L1925.8 1342.1L1926.6 1331.7L1927.4 1350.4L1928.2 1358.4L1929 1334.4L1929.8 1343.6L1930.6 1344.2L1931.4 1332.2L1932.2 1358.6L1933 1333.9L1933.8 1357.2L1934.6 1358.5L1935.4 1356.7L1936.2 1336.8L1937 1339L1937.8 1355.1L1938.6 1352.6L1939.4 1340L1940.2 1335.6L1941 1365L1941.8 1354.1L1942.6 1365.1L1943.4 1343.1L1944.2 1348.2L1945 1369.4L1945.8 1345.4L1946.6 1350.3L1947.4 1357.6L1948.2 1361.7L1949 1352.1L1949.8 1364.2L1950.6 1350.1L1951.4 1369.9L1952.2 1338.1L1953 1345.3L1953.8 1341.5L1954.6 1344.2L1955.4 1370.9L1956.2 1358.3L1957 1369.5L1957.8 1375.5L1958.6 1348.5L1959.4 1370.2L1960.2 1378.5L1961 1352L1961.8 1346.9L1962.6 1362.4L1963.4 1365.1L1964.2 1367.2L1965 1367.7L1965.8 1358.2L1966.6 1352.4L1967.4 1355.8L1968.2 1360.2L1969 1353.5L1969.8 1355.5L1970.6 1376.2L1971.4 1364.7L1972.2 1354.3L1973 1373.4L1973.8 1363.9L1974.6 1369.1L1975.4 1360.5L1976.2 1355.7L1977 1376.2L1977.8 1371.1L1978.6 1388.9L1979.4 1351.3L1980.2 1374.6L1981 1366.2L1981.8 1365.8L1982.6 1375.7L1983.4 1360L1984.2 1362.6L1985 1356.7L1985.8 1372.5L1986.6 1367.2L1987.4 1349.6L1988.2 1356.8L1989 1369.1L1989.8 1370.7L1990.6 1360.2L1991.4 1374.9L1992.2 1384.6L1993 1363.5L1993.8 1356L1994.6 1360L1995.4 1384.2L1996.2 1378.5L1997 1363L1997.8 1359.2L1998.6 1386.5L1999.4 1380.9L2000.2 1380.7L2001 1363.7L2001.8 1396.7L2002.6 1366L2003.4 1373.3L2004.2 1369.8L2005 1390.3L2005.8 1385.5L2006.6 1382.8L2007.4 1375L2008.2 1389.2L2009 1377.4L2009.8 1379.4L2010.6 1367.4L2011.4 1388.6L2012.2 1364L2013 1393.7L2013.8 1393.5L2014.6 1378.2L2015.4 1366.4L2016.2 1367.6L2017 1370.2L2017.8 1384L2018.6 1376.4L2019.4 1397.5L2020.2 1373.3L2021 1377.5L2021.8 1386.9L2022.6 1398.8L2023.4 1383.4L2024.2 1370.2L2025 1371.2L2025.8 1392.7L2026.6 1395.4L2027.4 1400.8L2028.2 1387L2029 1398.6L2029.8 1389.9L2030.6 1390.8L2031.4 1395.6L2032.2 1373.8L2033 1369.7L2033.8 1377.4L2034.6 1378.5L2035.4 1401.6L2036.2 1400.1L2037 1395.8L2037.8 1400.1L2038.6 1381.2L2039.4 1403.8L2040.2 1399.6L2041 1374.2L2041.8 1388.3L2042.6 1382.4L2043.4 1376L2044.2 1406.4L2045 1388.7L2045.8 1401.6L2046.6 1393.1L2047.4 1371.5L2048.2 1384.5L2049 1403.6L2049.8 1391.6L2050.6 1381.9L2051.4 1373L2052.2 1393.5L2053 1409.8L2053.8 1375.5L2054.6 1409.1L2055.4 1395.1L2056.2 1385.1L2057 1408.6L2057.8 1407.5L2058.6 1411L2059.4 1391.3L2060.2 1391.3L2061 1399.8L2061.8 1403.5L2062.6 1388.7L2063.4 1385L2064.2 1389.2L2065 1373.7L2065.8 1408.7L2066.6 1392.6L2067.4 1393L2068.2 1402.7L2069 1408.1L2069.8 1402.5L2070.6 1385.3L2071.4 1390L2072.2 1389.6L2073 1396.7L2073.8 1409.3L2074.6 1377.6L2075.4 1400.5L2076.2 1411.3L2077 1400.7L2077.8 1391.8L2078.6 1399.8L2079.4 1400.8L2080.2 1406.6L2081 1382.7L2081.8 1409.3L2082.6 1402.6L2083.4 1391.6L2084.2 1414.1L2085 1395.2L2085.8 1408.5L2086.6 1390.7L2087.4 1400L2088.2 1389.5L2089 1391.2L2089.8 1391L2090.6 1387.7L2091.4 1413.6L2092.2 1402L2093 1391.1L2093.8 1402.4L2094.6 1393.3L2095.4 1399.5L2096.2 1404.4L2097 1405.9L2097.8 1399.5L2098.6 1409L2099.4 1418.4L2100.2 1417.3L2101 1404.9L2101.8 1423.3L2102.6 1421.6L2103.4 1409.3L2104.2 1390.8L2105 1408L2105.8 1404.5L2106.6 1411.4L2107.4 1399.5L2108.2 1421.9L2109 1401L2109.8 1424.5L2110.6 1398.6L2111.4 1404.6L2112.2 1414.4L2113 1398.2L2113.8 1403.6L2114.6 1411.8L2115.4 1411.7L2116.2 1424L2117 1411.2L2117.8 1423.5L2118.6 1400L2119.4 1413L2120.2 1415.8L2121 1395.4L2121.8 1421L2122.6 1422.7L2123.4 1413.9L2124.2 1421L2125 1418.4L2125.8 1404.6L2126.6 1424L2127.4 1413.8L2128.2 1419.4L2129 1428.7L2129.8 1424.6L2130.6 1421.6L2131.4 1421.1L2132.2 1403.5L2133 1392.7L2133.8 1401.5L2134.6 1413.8L2135.4 1432.7L2136.2 1413.6L2137 1429.7L2137.8 1403.5L2138.6 1399.8L2139.4 1412L2140.2 1426.4L2141 1432.2L2141.8 1414.7L2142.6 1409L2143.4 1426.2L2144.2 1414.3L2145 1408.5L2145.8 1422.9L2146.6 1397.4L2147.4 1430.5L2148.2 1430.3L2149 1400.4L2149.8 1425.3L2150.6 1401.7L2151.4 1401.9L2152.2 1411L2153 1436L2153.8 1399L2154.6 1416.5L2155.4 1413.2L2156.2 1406.1L2157 1437L2157.8 1408.4L2158.6 1431L2159.4 1419.3L2160.2 1426.1L2161 1428.5L2161.8 1420.5L2162.6 1426.5L2163.4 1434.2L2164.2 1406.4L2165 1405L2165.8 1418.7L2166.6 1405.6L2167.4 1422.5L2168.2 1436.5L2169 1422.4L2169.8 1409.4L2170.6 1407L2171.4 1419.8L2172.2 1430.3L2173 1429.7L2173.8 1429.1L2174.6 1420.5L2175.4 1435.4L2176.2 1425.6L2177 1430.4L2177.8 1405.2L2178.6 1421.2L2179.4 1407.5L2180.2 1411.7L2181 1419.2L2181.8 1426.5L2182.6 1406.4L2183.4 1429L2184.2 1422.2L2185 1411.4L2185.8 1440.8L2186.6 1429.9L2187.4 1420.3L2188.2 1408.7L2189 1424.9L2189.8 1434.6L2190.6 1426.7L2191.4 1420.8L2192.2 1411.2L2193 1414.7L2193.8 1437.6L2194.6 1410.2L2195.4 1443.4L2196.2 1432L2197 1419.9L2197.8 1411.6L2198.6 1421.6L2199.4 1444.6L2200.2 1414.9L2201 1418L2201.8 1414.1L2202.6 1435.5L2203.4 1442.7L2204.2 1427.5L2205 1422.3L2205.8 1446.6L2206.6 1434.2L2207.4 1443.4L2208.2 1423.6L2209 1413.4L2209.8 1416.2L2210.6 1422.6L2211.4 1428.3L2212.2 1439.3L2213 1428.7L2213.8 1421.2L2214.6 1447.3L2215.4 1432.2L2216.2 1436.6L2217 1443.3L2217.8 1435.4L2218.6 1419.3L2219.4 1446.5L2220 1419.8"/>
</g>
<g fill="#000000"><rect x="311" y="57" width="1916.5" height="15"/><rect x="2212.5" y="57" width="15" height="1541.5"/><rect x="691.38" y="64" width="15" height="30.5"/><rect x="1071.66" y="64" width="15" height="30.5"/><rect x="1451.94" y="64" width="15" height="30.5"/><rect x="1832.22" y="64" width="15" height="30.5"/><rect x="501.24" y="64" width="15" height="15.5"/><rect x="881.52" y="64" width="15" height="15.5"/><rect x="1261.80" y="64" width="15" height="15.5"/><rect x="1642.08" y="64" width="15" height="15.5"/><rect x="2022.36" y="64" width="15" height="15.5"/><rect x="2190" y="57.00" width="30" height="15"/><rect x="2205" y="209.65" width="15" height="15"/><rect x="2190" y="362.30" width="30" height="15"/><rect x="2205" y="514.95" width="15" height="15"/><rect x="2190" y="667.60" width="30" height="15"/><rect x="2205" y="820.25" width="15" height="15"/><rect x="2190" y="972.90" width="30" height="15"/><rect x="2205" y="1125.55" width="15" height="15"/><rect x="2190" y="1278.20" width="30" height="15"/><rect x="2205" y="1430.85" width="15" height="15"/><rect x="2190" y="1583.50" width="30" height="15"/></g>
<text class="tk" x="285.7" y="88.00" text-anchor="end">1.2</text>
<text class="tk" x="285.7" y="322.85" text-anchor="end">1.0</text>
<text class="tk" x="285.7" y="557.69" text-anchor="end">0.8</text>
<text class="tk" x="285.7" y="792.54" text-anchor="end">0.6</text>
<text class="tk" x="285.7" y="1027.38" text-anchor="end">0.4</text>
<text class="tk" x="285.7" y="1262.23" text-anchor="end">0.2</text>
<text class="tk" x="285.7" y="1497.08" text-anchor="end">0.0</text>
<text class="tk" x="508.44" y="1686" text-anchor="middle">20</text>
<text class="tk" x="888.72" y="1686" text-anchor="middle">30</text>
<text class="tk" x="1269.00" y="1686" text-anchor="middle">40</text>
<text class="tk" x="1649.28" y="1686" text-anchor="middle">50</text>
<text class="tk" x="2029.56" y="1686" text-anchor="middle">60</text>
<text x="766.75" y="1835" font-size="131">2-Theta (Degree)</text>
<text transform="translate(130,1395) rotate(-90)" font-size="129.6">Intensity (Normalized)</text>
<rect x="1448.75" y="191.75" width="230.75" height="18.25" fill="#000000"/>
<rect x="1448.75" y="320" width="230.75" height="15" fill="#0000ff"/>
<rect x="1448.75" y="446.5" width="230.75" height="15" fill="#00ff00"/>
<rect x="1448.75" y="573" width="230.75" height="15" fill="#e070ff"/>
<text class="lg" transform="translate(1708.5,237.00) scale(1,1.04)">CNF</text>
<text class="lg" transform="translate(1708.5,363.25) scale(1,1.04)">CNF-Co3</text>
<text class="lg" transform="translate(1708.5,490.00) scale(1,1.04)">CNF-Co10</text>
<text class="lg" transform="translate(1708.5,616.50) scale(1,1.04)">CNF-Co20</text>
<text class="b" x="398.5" y="252.5" font-size="145">(a)</text>
<text class="an" x="652.25" y="292.9">(002)</text>
<text class="an" x="453" y="393">Hexagonal Graphite</text>
<text class="an" x="1258.5" y="199.5">(111)</text>
<text class="an" x="1171" y="300">metallic Co</text>
<text class="an" x="1649" y="813.25">(200)</text>
<text class="an" x="1560.5" y="914">metallic Co</text>
</svg>
</body></html>
